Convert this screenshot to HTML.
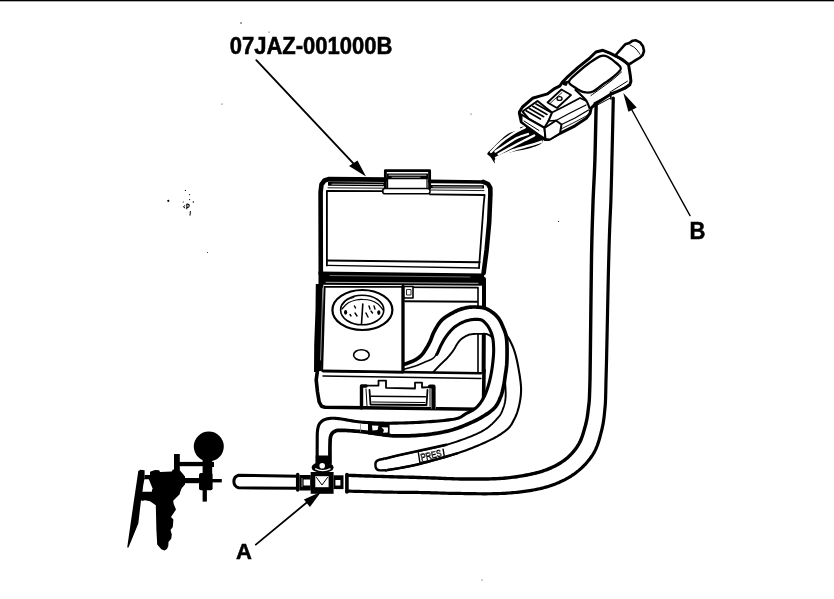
<!DOCTYPE html>
<html><head><meta charset="utf-8"><style>
html,body{margin:0;padding:0;background:#fff;}
svg{display:block;}
svg{will-change:transform;}
</style></head><body>
<svg width="834" height="599" viewBox="0 0 834 599">
<rect width="834" height="599" fill="#fff"/>
<rect x="0" y="0" width="834" height="1.3" fill="#000"/>
<circle cx="168.3" cy="200.8" r="1.1" fill="#000"/>
<circle cx="185.4" cy="190.4" r="0.6" fill="#000"/>
<circle cx="189.6" cy="194.6" r="0.6" fill="#000"/>
<circle cx="189.6" cy="199.6" r="0.6" fill="#000"/>
<circle cx="183.3" cy="202.0" r="0.6" fill="#000"/>
<circle cx="193.3" cy="202.0" r="0.7" fill="#000"/>
<circle cx="241.0" cy="23.0" r="0.7" fill="#000"/>
<circle cx="269.0" cy="32.0" r="0.5" fill="#000"/>
<circle cx="222.0" cy="104.0" r="0.5" fill="#000"/>
<circle cx="558.5" cy="221.5" r="0.6" fill="#000"/>
<circle cx="471.0" cy="114.0" r="0.5" fill="#000"/>
<circle cx="482.0" cy="580.0" r="0.5" fill="#000"/>
<circle cx="207.5" cy="252.5" r="0.5" fill="#000"/>
<path d="M185.2,205.3 L183.4,206.8 L185.2,208.2" fill="none" stroke="#000" stroke-width="1"/>
<path d="M186.8,209.3 L186.8,204.2 Q189.4,203.8 189.2,206 Q189,207.6 186.8,207.4" fill="none" stroke="#000" stroke-width="1.1"/>
<path d="M190.4,211 L190,215.6" fill="none" stroke="#000" stroke-width="1"/>
<text x="0" y="0" transform="translate(229.8,53.9) scale(1,1.07)" font-family="Liberation Sans, sans-serif" font-weight="bold" font-size="22" fill="#000" stroke="#000" stroke-width="0.5">07JAZ-001000B</text>
<text x="0" y="0" transform="translate(689.6,238.8) scale(1,1.05)" font-family="Liberation Sans, sans-serif" font-weight="bold" font-size="22" fill="#000" stroke="#000" stroke-width="0.5">B</text>
<text x="0" y="0" transform="translate(236,559.3) scale(1,1.03)" font-family="Liberation Sans, sans-serif" font-weight="bold" font-size="22" fill="#000" stroke="#000" stroke-width="0.5">A</text>
<path d="M256.3,60.2 L359.0,169.3" fill="none" stroke="#000" stroke-width="1.90" stroke-linecap="round" stroke-linejoin="round"/>
<path d="M366.0,176.6 L349.0,166.0 L357.5,160.5Z" fill="#000" stroke="none" stroke-width="0.00" stroke-linejoin="round"/>
<path d="M690.0,215.6 L630.5,107.5" fill="none" stroke="#000" stroke-width="1.40" stroke-linecap="round" stroke-linejoin="round"/>
<path d="M623.3,93.0 L628.4,111.7 L636.7,107.4Z" fill="#000" stroke="none" stroke-width="0.00" stroke-linejoin="round"/>
<path d="M255.8,544.6 L311.0,499.0" fill="none" stroke="#000" stroke-width="1.80" stroke-linecap="round" stroke-linejoin="round"/>
<path d="M321.2,491.7 L303.9,499.5 L309.9,507.0Z" fill="#000" stroke="none" stroke-width="0.00" stroke-linejoin="round"/>
<path d="M319.0,188.0 L328.0,177.5 L385.0,178.0 L385.0,169.5 L430.0,169.5 L430.0,180.0 L484.0,180.5 L492.0,187.0 L490.0,200.0 L486.0,262.0 L483.0,277.0 L319.0,275.0Z" fill="#fff" stroke="none" stroke-width="0.00" stroke-linejoin="round"/>
<path d="M320.8,274.0 L320.6,192.0 L321.5,184.5 L324.5,180.5 L328.5,179.1 L385.5,179.6" fill="none" stroke="#000" stroke-width="4.60" stroke-linecap="round" stroke-linejoin="round"/>
<path d="M385.4,188.5 L385.4,170.6 L429.6,170.6 L429.6,188.5" fill="none" stroke="#000" stroke-width="2.90" stroke-linecap="round" stroke-linejoin="round"/>
<path d="M387.0,173.4 L428.0,173.4 L428.0,179.2 L387.0,179.2Z" fill="#000" stroke="none" stroke-width="0.00" stroke-linejoin="round"/>
<path d="M389.0,175.2 L426.0,175.2" fill="none" stroke="#fff" stroke-width="0.80" stroke-linecap="round" stroke-linejoin="round"/>
<path d="M392.0,177.3 L420.0,177.3" fill="none" stroke="#fff" stroke-width="0.60" stroke-linecap="round" stroke-linejoin="round"/>
<path d="M387.6,179.0 L387.6,187.5" fill="none" stroke="#000" stroke-width="1.20" stroke-linecap="round" stroke-linejoin="round"/>
<path d="M427.0,179.0 L427.0,187.5" fill="none" stroke="#000" stroke-width="1.20" stroke-linecap="round" stroke-linejoin="round"/>
<path d="M429.5,181.4 L483.7,182.0" fill="none" stroke="#000" stroke-width="3.60" stroke-linecap="round" stroke-linejoin="round"/>
<path d="M483.5,182.0 L488.0,184.0 L490.3,188.0 L490.4,194.0 L489.2,222.0 L486.6,250.0 L483.6,273.0" fill="none" stroke="#000" stroke-width="4.60" stroke-linecap="round" stroke-linejoin="round"/>
<path d="M328.0,182.0 L385.0,182.6 L385.0,186.2 L328.0,185.8Z" fill="#000" stroke="none" stroke-width="0.00" stroke-linejoin="round"/>
<path d="M332.0,184.2 L383.0,184.6" fill="none" stroke="#fff" stroke-width="0.70" stroke-linecap="round" stroke-linejoin="round"/>
<path d="M431.0,185.0 L484.0,185.3 L484.0,188.4 L431.0,188.2Z" fill="#000" stroke="none" stroke-width="0.00" stroke-linejoin="round"/>
<path d="M433.0,186.9 L482.0,187.1" fill="none" stroke="#fff" stroke-width="0.70" stroke-linecap="round" stroke-linejoin="round"/>
<path d="M328.0,187.8 L384.0,188.2" fill="none" stroke="#000" stroke-width="0.90" stroke-linecap="round" stroke-linejoin="round"/>
<path d="M431.0,190.0 L484.0,190.6" fill="none" stroke="#000" stroke-width="0.90" stroke-linecap="round" stroke-linejoin="round"/>
<rect x="382.6" y="188.6" width="47.5" height="5.2" rx="2.6" fill="#fff" stroke="#000" stroke-width="1.5"/>
<path d="M326.9,265.5 L326.9,190.8 L382.6,191.2" fill="none" stroke="#000" stroke-width="1.80" stroke-linecap="round" stroke-linejoin="round"/>
<path d="M430.0,194.3 L484.6,195.0 L483.6,205.0 L479.0,268.0" fill="none" stroke="#000" stroke-width="1.80" stroke-linecap="round" stroke-linejoin="round"/>
<path d="M327.0,260.4 L479.5,262.3" fill="none" stroke="#000" stroke-width="2.00" stroke-linecap="round" stroke-linejoin="round"/>
<path d="M327.0,265.4 L479.0,268.0" fill="none" stroke="#000" stroke-width="1.40" stroke-linecap="round" stroke-linejoin="round"/>
<path d="M318.5,271.6 L484.0,273.6 L484.5,285.8 L318.5,284.8Z" fill="#000" stroke="none" stroke-width="0.00" stroke-linejoin="round"/>
<path d="M326.0,282.3 L478.0,283.3" fill="none" stroke="#fff" stroke-width="0.70" stroke-linecap="round" stroke-linejoin="round"/>
<path d="M330.0,275.5 L470.0,277.0" fill="none" stroke="#ddd" stroke-width="0.50" stroke-linecap="round" stroke-linejoin="round"/>
<path d="M321.0,285.0 L484.0,286.0 L484.0,405.0 L480.0,408.5 L324.0,408.0 L320.0,404.0Z" fill="#fff" stroke="none" stroke-width="0.00" stroke-linejoin="round"/>
<path d="M315.8,284.0 L323.4,284.0 L323.4,300.0 L323.0,340.0 L321.6,372.0 L314.0,372.0 L314.2,345.0 L315.5,310.0Z" fill="#000" stroke="none" stroke-width="0.00" stroke-linejoin="round"/>
<path d="M322.8,288.0 L320.6,360.0" fill="none" stroke="#fff" stroke-width="0.60" stroke-linecap="round" stroke-linejoin="round"/>
<path d="M484.0,279.0 L484.0,300.0 L483.6,372.0" fill="none" stroke="#000" stroke-width="4.00" stroke-linecap="round" stroke-linejoin="round"/>
<path d="M322.3,371.0 L324.8,286.8 L478.0,287.6 L478.0,374.0" fill="none" stroke="#000" stroke-width="1.60" stroke-linecap="round" stroke-linejoin="round"/>
<path d="M405.0,301.2 L477.0,301.8" fill="none" stroke="#000" stroke-width="1.90" stroke-linecap="round" stroke-linejoin="round"/>
<path d="M403.5,286.5 L413.0,286.5 L413.0,298.0 L403.5,298.0Z" fill="#fff" stroke="#000" stroke-width="1.60" stroke-linejoin="round"/>
<path d="M406.5,289.5 L411.0,289.5 L411.0,295.0 L406.5,295.0Z" fill="none" stroke="#000" stroke-width="0.80" stroke-linejoin="round"/>
<path d="M432.50,373.00 L432.86,372.61 L433.31,372.12 L433.85,371.55 L434.44,370.90 L435.09,370.20 L435.78,369.46 L436.49,368.70 L437.21,367.92 L437.94,367.15 L438.66,366.39 L439.35,365.67 L440.00,365.00 L440.63,364.36 L441.28,363.73 L441.93,363.11 L442.59,362.50 L443.24,361.88 L443.89,361.27 L444.54,360.67 L445.18,360.06 L445.81,359.45 L446.42,358.84 L447.02,358.22 L447.60,357.60 L448.16,356.97 L448.72,356.33 L449.26,355.69 L449.80,355.04 L450.32,354.39 L450.83,353.74 L451.33,353.10 L451.81,352.46 L452.29,351.83 L452.74,351.21 L453.18,350.60 L453.60,350.00 L454.00,349.42 L454.36,348.84 L454.71,348.26 L455.03,347.70 L455.34,347.14 L455.64,346.59 L455.94,346.05 L456.23,345.51 L456.53,344.99 L456.84,344.48 L457.16,343.99 L457.50,343.50 L457.84,343.03 L458.17,342.57 L458.50,342.12 L458.83,341.69 L459.16,341.26 L459.49,340.84 L459.85,340.44 L460.22,340.04 L460.61,339.64 L461.04,339.26 L461.50,338.88 L462.00,338.50 L462.54,338.12 L463.11,337.74 L463.71,337.35 L464.33,336.97 L464.98,336.59 L465.66,336.22 L466.35,335.88 L467.06,335.54 L467.78,335.24 L468.51,334.96 L469.25,334.71 L470.00,334.50 L470.77,334.33 L471.57,334.19 L472.41,334.08 L473.26,334.00 L474.13,333.95 L475.00,333.91 L475.87,333.89 L476.74,333.89 L477.59,333.89 L478.43,333.89 L479.23,333.90 L480.00,333.90 L480.74,333.89 L481.47,333.87 L482.19,333.85 L482.89,333.83 L483.58,333.82 L484.25,333.82 L484.91,333.84 L485.56,333.89 L486.19,333.98 L486.81,334.10 L487.41,334.27 L488.00,334.50 L488.57,334.77 L489.12,335.06 L489.64,335.38 L490.15,335.73 L490.64,336.12 L491.12,336.54 L491.60,337.00 L492.07,337.50 L492.55,338.05 L493.02,338.65 L493.51,339.30 L494.00,340.00 L494.51,340.76 L495.02,341.58 L495.55,342.45 L496.07,343.37 L496.60,344.34 L497.12,345.34 L497.64,346.39 L498.15,347.46 L498.64,348.57 L499.12,349.69 L499.57,350.84 L500.00,352.00 L500.41,353.19 L500.81,354.44 L501.21,355.73 L501.59,357.05 L501.95,358.40 L502.30,359.78 L502.63,361.16 L502.95,362.55 L503.24,363.93 L503.52,365.31 L503.77,366.67 L504.00,368.00 L504.20,369.32 L504.37,370.65 L504.52,371.98 L504.64,373.31 L504.74,374.64 L504.82,375.96 L504.90,377.28 L504.96,378.58 L505.02,379.86 L505.08,381.13 L505.14,382.38 L505.20,383.60 L505.27,384.80 L505.34,385.99 L505.42,387.17 L505.49,388.33 L505.56,389.48 L505.61,390.61 L505.66,391.72 L505.69,392.81 L505.70,393.89 L505.69,394.95 L505.66,395.98 L505.60,397.00 L505.52,397.99 L505.43,398.94 L505.32,399.87 L505.19,400.77 L505.05,401.66 L504.89,402.53 L504.70,403.39 L504.50,404.25 L504.26,405.10 L504.01,405.96 L503.72,406.82 L503.40,407.70 L503.08,408.57 L502.77,409.43 L502.46,410.27 L502.13,411.10 L501.79,411.93 L501.40,412.77 L500.96,413.62 L500.47,414.48 L499.89,415.36 L499.23,416.27 L498.47,417.22 L497.60,418.20 L496.65,419.23 L495.67,420.29 L494.63,421.40 L493.54,422.53 L492.37,423.68 L491.11,424.84 L489.75,426.02 L488.27,427.20 L486.68,428.37 L484.94,429.53 L483.05,430.68 L481.00,431.80 L478.77,432.92 L476.36,434.04 L473.79,435.17 L471.09,436.31 L468.25,437.44 L465.31,438.56 L462.27,439.66 L459.16,440.75 L455.99,441.81 L452.78,442.84 L449.54,443.84 L446.30,444.80 L442.93,445.73 L439.33,446.64 L435.56,447.54 L431.67,448.41 L427.73,449.26 L423.78,450.08 L419.89,450.87 L416.11,451.63 L412.49,452.36 L409.10,453.05 L405.98,453.69 L403.20,454.30 L400.70,454.86 L398.39,455.39 L396.27,455.88 L394.32,456.34 L392.53,456.76 L390.91,457.14 L389.43,457.50 L388.09,457.82 L386.89,458.11 L385.81,458.37 L384.85,458.60 L384.00,458.80 L386.00,470.20 L387.30,469.99 L388.87,469.75 L390.68,469.48 L392.70,469.19 L394.92,468.86 L397.31,468.49 L399.85,468.09 L402.51,467.63 L405.28,467.13 L408.14,466.58 L411.05,465.97 L414.00,465.30 L417.10,464.56 L420.43,463.73 L423.96,462.84 L427.64,461.89 L431.43,460.89 L435.28,459.86 L439.14,458.79 L442.97,457.71 L446.72,456.62 L450.36,455.53 L453.83,454.45 L457.10,453.40 L460.22,452.35 L463.29,451.27 L466.30,450.18 L469.24,449.07 L472.11,447.95 L474.90,446.84 L477.60,445.72 L480.20,444.62 L482.70,443.53 L485.09,442.46 L487.36,441.41 L489.50,440.40 L491.51,439.41 L493.40,438.45 L495.17,437.50 L496.83,436.57 L498.38,435.65 L499.84,434.75 L501.21,433.86 L502.50,432.97 L503.71,432.10 L504.86,431.23 L505.96,430.36 L507.00,429.50 L507.96,428.65 L508.80,427.83 L509.54,427.02 L510.20,426.23 L510.78,425.45 L511.31,424.67 L511.79,423.88 L512.23,423.09 L512.66,422.28 L513.09,421.45 L513.53,420.59 L514.00,419.70 L514.47,418.79 L514.93,417.86 L515.37,416.93 L515.79,415.98 L516.20,415.01 L516.59,414.03 L516.96,413.03 L517.32,412.01 L517.66,410.97 L517.99,409.90 L518.30,408.82 L518.60,407.70 L518.89,406.55 L519.17,405.36 L519.43,404.14 L519.69,402.89 L519.93,401.62 L520.15,400.34 L520.35,399.04 L520.53,397.74 L520.69,396.44 L520.82,395.15 L520.93,393.86 L521.00,392.60 L521.05,391.37 L521.07,390.18 L521.07,389.02 L521.04,387.87 L521.00,386.73 L520.93,385.57 L520.83,384.38 L520.71,383.16 L520.57,381.88 L520.40,380.54 L520.21,379.12 L520.00,377.60 L519.76,375.96 L519.48,374.19 L519.18,372.31 L518.84,370.35 L518.49,368.34 L518.11,366.30 L517.72,364.26 L517.31,362.25 L516.89,360.29 L516.47,358.41 L516.03,356.64 L515.60,355.00 L515.16,353.47 L514.71,352.00 L514.25,350.60 L513.78,349.25 L513.29,347.96 L512.80,346.71 L512.29,345.51 L511.78,344.35 L511.25,343.22 L510.71,342.12 L510.16,341.05 L509.60,340.00 L509.03,338.99 L508.47,338.03 L507.89,337.12 L507.31,336.26 L506.72,335.43 L506.11,334.62 L505.49,333.84 L504.84,333.07 L504.18,332.31 L503.48,331.55 L502.76,330.78 L502.00,330.00 L501.22,329.21 L500.41,328.41 L499.58,327.61 L498.73,326.81 L497.86,326.03 L496.96,325.25 L496.04,324.49 L495.09,323.74 L494.11,323.02 L493.10,322.31 L492.07,321.64 L491.00,321.00 L489.89,320.36 L488.74,319.70 L487.55,319.03 L486.33,318.37 L485.08,317.73 L483.81,317.12 L482.52,316.57 L481.22,316.07 L479.91,315.66 L478.60,315.33 L477.30,315.11 L476.00,315.00 L474.70,315.01 L473.38,315.13 L472.05,315.34 L470.70,315.63 L469.35,316.00 L468.00,316.44 L466.65,316.93 L465.30,317.48 L463.95,318.07 L462.62,318.69 L461.30,319.34 L460.00,320.00 L458.70,320.70 L457.40,321.47 L456.09,322.30 L454.78,323.19 L453.48,324.11 L452.19,325.06 L450.92,326.04 L449.67,327.04 L448.45,328.04 L447.26,329.04 L446.11,330.03 L445.00,331.00 L443.93,331.96 L442.90,332.94 L441.90,333.93 L440.93,334.93 L439.98,335.93 L439.06,336.94 L438.17,337.95 L437.30,338.96 L436.45,339.98 L435.61,340.99 L434.80,342.00 L434.00,343.00 L433.25,344.01 L432.56,345.04 L431.93,346.08 L431.33,347.13 L430.76,348.18 L430.19,349.22 L429.61,350.25 L429.00,351.26 L428.35,352.25 L427.65,353.20 L426.87,354.12 L426.00,355.00 L425.05,355.84 L424.04,356.67 L422.97,357.46 L421.85,358.24 L420.69,358.99 L419.50,359.72 L418.28,360.42 L417.04,361.09 L415.78,361.74 L414.52,362.36 L413.26,362.94 L412.00,363.50 L410.69,364.03 L409.26,364.53 L407.77,365.01 L406.22,365.46 L404.66,365.89 L403.12,366.28 L401.63,366.65 L400.22,366.98 L398.92,367.29 L397.76,367.56 L396.78,367.80 L396.00,368.00Z" fill="#fff" stroke="none"/><path d="M432.50,373.00 L432.86,372.61 L433.31,372.12 L433.85,371.55 L434.44,370.90 L435.09,370.20 L435.78,369.46 L436.49,368.70 L437.21,367.92 L437.94,367.15 L438.66,366.39 L439.35,365.67 L440.00,365.00 L440.63,364.36 L441.28,363.73 L441.93,363.11 L442.59,362.50 L443.24,361.88 L443.89,361.27 L444.54,360.67 L445.18,360.06 L445.81,359.45 L446.42,358.84 L447.02,358.22 L447.60,357.60 L448.16,356.97 L448.72,356.33 L449.26,355.69 L449.80,355.04 L450.32,354.39 L450.83,353.74 L451.33,353.10 L451.81,352.46 L452.29,351.83 L452.74,351.21 L453.18,350.60 L453.60,350.00 L454.00,349.42 L454.36,348.84 L454.71,348.26 L455.03,347.70 L455.34,347.14 L455.64,346.59 L455.94,346.05 L456.23,345.51 L456.53,344.99 L456.84,344.48 L457.16,343.99 L457.50,343.50 L457.84,343.03 L458.17,342.57 L458.50,342.12 L458.83,341.69 L459.16,341.26 L459.49,340.84 L459.85,340.44 L460.22,340.04 L460.61,339.64 L461.04,339.26 L461.50,338.88 L462.00,338.50 L462.54,338.12 L463.11,337.74 L463.71,337.35 L464.33,336.97 L464.98,336.59 L465.66,336.22 L466.35,335.88 L467.06,335.54 L467.78,335.24 L468.51,334.96 L469.25,334.71 L470.00,334.50 L470.77,334.33 L471.57,334.19 L472.41,334.08 L473.26,334.00 L474.13,333.95 L475.00,333.91 L475.87,333.89 L476.74,333.89 L477.59,333.89 L478.43,333.89 L479.23,333.90 L480.00,333.90 L480.74,333.89 L481.47,333.87 L482.19,333.85 L482.89,333.83 L483.58,333.82 L484.25,333.82 L484.91,333.84 L485.56,333.89 L486.19,333.98 L486.81,334.10 L487.41,334.27 L488.00,334.50 L488.57,334.77 L489.12,335.06 L489.64,335.38 L490.15,335.73 L490.64,336.12 L491.12,336.54 L491.60,337.00 L492.07,337.50 L492.55,338.05 L493.02,338.65 L493.51,339.30 L494.00,340.00 L494.51,340.76 L495.02,341.58 L495.55,342.45 L496.07,343.37 L496.60,344.34 L497.12,345.34 L497.64,346.39 L498.15,347.46 L498.64,348.57 L499.12,349.69 L499.57,350.84 L500.00,352.00 L500.41,353.19 L500.81,354.44 L501.21,355.73 L501.59,357.05 L501.95,358.40 L502.30,359.78 L502.63,361.16 L502.95,362.55 L503.24,363.93 L503.52,365.31 L503.77,366.67 L504.00,368.00 L504.20,369.32 L504.37,370.65 L504.52,371.98 L504.64,373.31 L504.74,374.64 L504.82,375.96 L504.90,377.28 L504.96,378.58 L505.02,379.86 L505.08,381.13 L505.14,382.38 L505.20,383.60 L505.27,384.80 L505.34,385.99 L505.42,387.17 L505.49,388.33 L505.56,389.48 L505.61,390.61 L505.66,391.72 L505.69,392.81 L505.70,393.89 L505.69,394.95 L505.66,395.98 L505.60,397.00 L505.52,397.99 L505.43,398.94 L505.32,399.87 L505.19,400.77 L505.05,401.66 L504.89,402.53 L504.70,403.39 L504.50,404.25 L504.26,405.10 L504.01,405.96 L503.72,406.82 L503.40,407.70 L503.08,408.57 L502.77,409.43 L502.46,410.27 L502.13,411.10 L501.79,411.93 L501.40,412.77 L500.96,413.62 L500.47,414.48 L499.89,415.36 L499.23,416.27 L498.47,417.22 L497.60,418.20 L496.65,419.23 L495.67,420.29 L494.63,421.40 L493.54,422.53 L492.37,423.68 L491.11,424.84 L489.75,426.02 L488.27,427.20 L486.68,428.37 L484.94,429.53 L483.05,430.68 L481.00,431.80 L478.77,432.92 L476.36,434.04 L473.79,435.17 L471.09,436.31 L468.25,437.44 L465.31,438.56 L462.27,439.66 L459.16,440.75 L455.99,441.81 L452.78,442.84 L449.54,443.84 L446.30,444.80 L442.93,445.73 L439.33,446.64 L435.56,447.54 L431.67,448.41 L427.73,449.26 L423.78,450.08 L419.89,450.87 L416.11,451.63 L412.49,452.36 L409.10,453.05 L405.98,453.69 L403.20,454.30 L400.70,454.86 L398.39,455.39 L396.27,455.88 L394.32,456.34 L392.53,456.76 L390.91,457.14 L389.43,457.50 L388.09,457.82 L386.89,458.11 L385.81,458.37 L384.85,458.60 L384.00,458.80" fill="none" stroke="#000" stroke-width="1.90" stroke-linecap="round" stroke-linejoin="round"/><path d="M396.00,368.00 L396.78,367.80 L397.76,367.56 L398.92,367.29 L400.22,366.98 L401.63,366.65 L403.12,366.28 L404.66,365.89 L406.22,365.46 L407.77,365.01 L409.26,364.53 L410.69,364.03 L412.00,363.50 L413.26,362.94 L414.52,362.36 L415.78,361.74 L417.04,361.09 L418.28,360.42 L419.50,359.72 L420.69,358.99 L421.85,358.24 L422.97,357.46 L424.04,356.67 L425.05,355.84 L426.00,355.00 L426.87,354.12 L427.65,353.20 L428.35,352.25 L429.00,351.26 L429.61,350.25 L430.19,349.22 L430.76,348.18 L431.33,347.13 L431.93,346.08 L432.56,345.04 L433.25,344.01 L434.00,343.00 L434.80,342.00 L435.61,340.99 L436.45,339.98 L437.30,338.96 L438.17,337.95 L439.06,336.94 L439.98,335.93 L440.93,334.93 L441.90,333.93 L442.90,332.94 L443.93,331.96 L445.00,331.00 L446.11,330.03 L447.26,329.04 L448.45,328.04 L449.67,327.04 L450.92,326.04 L452.19,325.06 L453.48,324.11 L454.78,323.19 L456.09,322.30 L457.40,321.47 L458.70,320.70 L460.00,320.00 L461.30,319.34 L462.62,318.69 L463.95,318.07 L465.30,317.48 L466.65,316.93 L468.00,316.44 L469.35,316.00 L470.70,315.63 L472.05,315.34 L473.38,315.13 L474.70,315.01 L476.00,315.00 L477.30,315.11 L478.60,315.33 L479.91,315.66 L481.22,316.07 L482.52,316.57 L483.81,317.12 L485.08,317.73 L486.33,318.37 L487.55,319.03 L488.74,319.70 L489.89,320.36 L491.00,321.00 L492.07,321.64 L493.10,322.31 L494.11,323.02 L495.09,323.74 L496.04,324.49 L496.96,325.25 L497.86,326.03 L498.73,326.81 L499.58,327.61 L500.41,328.41 L501.22,329.21 L502.00,330.00 L502.76,330.78 L503.48,331.55 L504.18,332.31 L504.84,333.07 L505.49,333.84 L506.11,334.62 L506.72,335.43 L507.31,336.26 L507.89,337.12 L508.47,338.03 L509.03,338.99 L509.60,340.00 L510.16,341.05 L510.71,342.12 L511.25,343.22 L511.78,344.35 L512.29,345.51 L512.80,346.71 L513.29,347.96 L513.78,349.25 L514.25,350.60 L514.71,352.00 L515.16,353.47 L515.60,355.00 L516.03,356.64 L516.47,358.41 L516.89,360.29 L517.31,362.25 L517.72,364.26 L518.11,366.30 L518.49,368.34 L518.84,370.35 L519.18,372.31 L519.48,374.19 L519.76,375.96 L520.00,377.60 L520.21,379.12 L520.40,380.54 L520.57,381.88 L520.71,383.16 L520.83,384.38 L520.93,385.57 L521.00,386.73 L521.04,387.87 L521.07,389.02 L521.07,390.18 L521.05,391.37 L521.00,392.60 L520.93,393.86 L520.82,395.15 L520.69,396.44 L520.53,397.74 L520.35,399.04 L520.15,400.34 L519.93,401.62 L519.69,402.89 L519.43,404.14 L519.17,405.36 L518.89,406.55 L518.60,407.70 L518.30,408.82 L517.99,409.90 L517.66,410.97 L517.32,412.01 L516.96,413.03 L516.59,414.03 L516.20,415.01 L515.79,415.98 L515.37,416.93 L514.93,417.86 L514.47,418.79 L514.00,419.70 L513.53,420.59 L513.09,421.45 L512.66,422.28 L512.23,423.09 L511.79,423.88 L511.31,424.67 L510.78,425.45 L510.20,426.23 L509.54,427.02 L508.80,427.83 L507.96,428.65 L507.00,429.50 L505.96,430.36 L504.86,431.23 L503.71,432.10 L502.50,432.97 L501.21,433.86 L499.84,434.75 L498.38,435.65 L496.83,436.57 L495.17,437.50 L493.40,438.45 L491.51,439.41 L489.50,440.40 L487.36,441.41 L485.09,442.46 L482.70,443.53 L480.20,444.62 L477.60,445.72 L474.90,446.84 L472.11,447.95 L469.24,449.07 L466.30,450.18 L463.29,451.27 L460.22,452.35 L457.10,453.40 L453.83,454.45 L450.36,455.53 L446.72,456.62 L442.97,457.71 L439.14,458.79 L435.28,459.86 L431.43,460.89 L427.64,461.89 L423.96,462.84 L420.43,463.73 L417.10,464.56 L414.00,465.30 L411.05,465.97 L408.14,466.58 L405.28,467.13 L402.51,467.63 L399.85,468.09 L397.31,468.49 L394.92,468.86 L392.70,469.19 L390.68,469.48 L388.87,469.75 L387.30,469.99 L386.00,470.20" fill="none" stroke="#000" stroke-width="2.10" stroke-linecap="round" stroke-linejoin="round"/>
<path d="M446.3,444.8 C439.1,446.4 413.6,452.0 403.2,454.3 C392.8,456.6 387.2,458.1 384.0,458.8" fill="none" stroke="#000" stroke-width="2.50" stroke-linecap="round" stroke-linejoin="round"/>
<path d="M457.1,453.4 C449.9,455.4 425.9,462.5 414.0,465.3 C402.1,468.1 390.7,469.4 386.0,470.2" fill="none" stroke="#000" stroke-width="2.50" stroke-linecap="round" stroke-linejoin="round"/>
<path d="M384.5,458.7 L379,459.8 Q375.3,460.8 375.4,464 L375.6,467 Q376.3,470.3 380,470.4 L386.5,470.2" fill="#fff" stroke="#000" stroke-width="2.4" stroke-linejoin="round"/>
<path d="M418.4,452.8 L419.8,462.2" fill="none" stroke="#000" stroke-width="1.40" stroke-linecap="round" stroke-linejoin="round"/>
<path d="M443.1,449.2 L444.5,457.6" fill="none" stroke="#000" stroke-width="1.40" stroke-linecap="round" stroke-linejoin="round"/>
<path d="M419.8,462.4 L444.5,457.4" fill="none" stroke="#000" stroke-width="1.00" stroke-linecap="round" stroke-linejoin="round"/>
<text x="0" y="0" transform="translate(421.5,460.8) rotate(-13)" font-family="Liberation Sans, sans-serif" font-size="9.6" fill="none" stroke="#000" stroke-width="0.65" textLength="21" lengthAdjust="spacingAndGlyphs">PRES</text>
<path d="M316.0,371.0 L484.0,373.0 L484.0,405.0 L480.0,409.0 L322.0,408.5 L319.0,404.0Z" fill="#fff" stroke="none" stroke-width="0.00" stroke-linejoin="round"/>
<path d="M317.8,368.0 L316.2,380.0 L317.5,392.0 L319.2,402.0 L321.5,406.2 L325.0,407.2 L479.0,409.2 L483.5,405.0 L484.0,370.0" fill="none" stroke="#000" stroke-width="3.60" stroke-linecap="round" stroke-linejoin="round"/>
<path d="M323.0,370.9 L481.0,373.3" fill="none" stroke="#000" stroke-width="2.60" stroke-linecap="round" stroke-linejoin="round"/>
<path d="M323.0,376.0 L481.0,378.6" fill="none" stroke="#000" stroke-width="1.50" stroke-linecap="round" stroke-linejoin="round"/>
<path d="M361.0,386.0 L378.5,385.5 L378.5,380.5 L386.0,380.5 L386.0,387.5 L415.0,388.0 L415.0,382.5 L422.0,382.5 L422.0,387.5 L431.0,387.0 L431.0,408.5 L436.0,408.5 L436.0,386.0 L431.0,386.0 L431.0,387.0Z" fill="#fff" stroke="none" stroke-width="0.00" stroke-linejoin="round"/>
<path d="M361.5,408.0 L361.5,386.0 L366.0,386.0" fill="none" stroke="#000" stroke-width="3.40" stroke-linecap="round" stroke-linejoin="round"/>
<path d="M433.5,408.0 L433.5,386.5 L430.0,386.5" fill="none" stroke="#000" stroke-width="4.20" stroke-linecap="round" stroke-linejoin="round"/>
<path d="M366.0,385.6 L378.5,385.6 L378.5,380.6 L386.0,380.6 L386.0,387.8 L415.0,388.5 L415.0,382.6 L422.0,382.6 L422.0,387.5 L431.0,387.2" fill="none" stroke="#000" stroke-width="1.80" stroke-linecap="round" stroke-linejoin="round"/>
<path d="M369.5,390.0 L370.5,404.5 L426.5,405.0 L427.5,390.0" fill="none" stroke="#000" stroke-width="1.80" stroke-linecap="round" stroke-linejoin="round"/>
<path d="M371.0,396.3 L425.5,396.8" fill="none" stroke="#000" stroke-width="1.60" stroke-linecap="round" stroke-linejoin="round"/>
<path d="M372.0,402.0 L425.0,402.5" fill="none" stroke="#000" stroke-width="1.00" stroke-linecap="round" stroke-linejoin="round"/>
<path d="M366.0,389.0 L367.0,406.0" fill="none" stroke="#000" stroke-width="1.00" stroke-linecap="round" stroke-linejoin="round"/>
<path d="M430.0,389.0 L430.0,406.0" fill="none" stroke="#000" stroke-width="1.00" stroke-linecap="round" stroke-linejoin="round"/>
<path d="M400.50,365.60 L401.16,365.36 L402.01,365.06 L403.03,364.71 L404.16,364.31 L405.39,363.89 L406.68,363.43 L408.00,362.96 L409.30,362.47 L410.57,361.99 L411.77,361.51 L412.85,361.04 L413.80,360.60 L414.64,360.18 L415.41,359.76 L416.13,359.35 L416.81,358.94 L417.45,358.52 L418.05,358.11 L418.62,357.68 L419.18,357.24 L419.72,356.79 L420.24,356.31 L420.77,355.82 L421.30,355.30 L421.82,354.75 L422.33,354.17 L422.82,353.56 L423.29,352.94 L423.75,352.30 L424.19,351.64 L424.62,350.99 L425.03,350.33 L425.44,349.68 L425.83,349.03 L426.22,348.41 L426.60,347.80 L426.96,347.22 L427.31,346.66 L427.63,346.11 L427.94,345.58 L428.24,345.05 L428.54,344.53 L428.83,343.99 L429.11,343.44 L429.40,342.87 L429.69,342.28 L429.99,341.66 L430.30,341.00 L430.61,340.31 L430.89,339.60 L431.17,338.86 L431.44,338.11 L431.71,337.34 L431.99,336.55 L432.29,335.74 L432.60,334.92 L432.95,334.09 L433.32,333.24 L433.74,332.37 L434.20,331.50 L434.70,330.60 L435.22,329.65 L435.76,328.67 L436.32,327.66 L436.92,326.64 L437.54,325.62 L438.19,324.60 L438.88,323.59 L439.60,322.61 L440.36,321.66 L441.16,320.75 L442.00,319.90 L442.91,319.08 L443.89,318.28 L444.93,317.51 L446.03,316.75 L447.16,316.01 L448.31,315.31 L449.47,314.63 L450.62,313.97 L451.75,313.35 L452.85,312.77 L453.91,312.21 L454.90,311.70 L455.84,311.23 L456.75,310.79 L457.62,310.40 L458.48,310.03 L459.31,309.70 L460.13,309.40 L460.94,309.12 L461.74,308.87 L462.55,308.63 L463.35,308.41 L464.17,308.20 L465.00,308.00 L465.84,307.81 L466.67,307.65 L467.51,307.51 L468.34,307.38 L469.17,307.28 L470.01,307.19 L470.84,307.12 L471.67,307.06 L472.50,307.02 L473.33,307.00 L474.17,306.99 L475.00,307.00 L475.84,307.02 L476.69,307.05 L477.55,307.09 L478.41,307.14 L479.27,307.22 L480.12,307.31 L480.98,307.42 L481.81,307.54 L482.64,307.70 L483.45,307.87 L484.24,308.07 L485.00,308.30 L485.74,308.56 L486.47,308.85 L487.19,309.16 L487.89,309.50 L488.58,309.86 L489.25,310.24 L489.91,310.64 L490.56,311.06 L491.19,311.48 L491.81,311.91 L492.41,312.36 L493.00,312.80 L493.58,313.25 L494.14,313.71 L494.69,314.19 L495.22,314.67 L495.74,315.17 L496.25,315.68 L496.74,316.20 L497.22,316.74 L497.69,317.28 L498.14,317.84 L498.58,318.41 L499.00,319.00 L499.41,319.60 L499.79,320.22 L500.16,320.86 L500.52,321.51 L500.86,322.18 L501.19,322.86 L501.51,323.54 L501.81,324.23 L502.12,324.92 L502.41,325.62 L502.71,326.31 L503.00,327.00 L503.29,327.68 L503.58,328.36 L503.87,329.04 L504.15,329.72 L504.42,330.40 L504.69,331.09 L504.94,331.79 L505.19,332.50 L505.41,333.22 L505.63,333.96 L505.82,334.72 L506.00,335.50 L506.16,336.28 L506.30,337.05 L506.42,337.82 L506.53,338.60 L506.62,339.38 L506.70,340.19 L506.77,341.03 L506.83,341.91 L506.88,342.84 L506.93,343.83 L506.97,344.88 L507.00,346.00 L507.03,347.22 L507.05,348.56 L507.07,349.98 L507.07,351.47 L507.07,353.00 L507.06,354.57 L507.04,356.14 L507.01,357.70 L506.98,359.23 L506.93,360.70 L506.87,362.10 L506.80,363.40 L506.72,364.63 L506.61,365.81 L506.50,366.95 L506.37,368.05 L506.23,369.12 L506.09,370.16 L505.94,371.18 L505.79,372.17 L505.63,373.15 L505.48,374.11 L505.34,375.06 L505.20,376.00 L505.07,376.92 L504.95,377.81 L504.83,378.66 L504.72,379.49 L504.60,380.30 L504.49,381.10 L504.37,381.89 L504.24,382.69 L504.10,383.49 L503.95,384.31 L503.78,385.14 L503.60,386.00 L503.41,386.88 L503.22,387.78 L503.02,388.69 L502.81,389.60 L502.60,390.53 L502.38,391.46 L502.13,392.39 L501.87,393.32 L501.59,394.25 L501.29,395.17 L500.96,396.09 L500.60,397.00 L500.22,397.91 L499.84,398.82 L499.45,399.74 L499.04,400.65 L498.62,401.57 L498.16,402.48 L497.68,403.38 L497.16,404.27 L496.59,405.15 L495.98,406.02 L495.32,406.87 L494.60,407.70 L493.82,408.51 L492.98,409.32 L492.09,410.10 L491.16,410.88 L490.18,411.65 L489.17,412.40 L488.12,413.14 L487.05,413.87 L485.96,414.60 L484.85,415.31 L483.73,416.01 L482.60,416.70 L481.46,417.38 L480.29,418.05 L479.10,418.71 L477.89,419.36 L476.65,419.99 L475.39,420.62 L474.12,421.24 L472.83,421.84 L471.52,422.44 L470.19,423.04 L468.85,423.62 L467.50,424.20 L466.15,424.77 L464.81,425.34 L463.47,425.91 L462.13,426.46 L460.77,427.01 L459.38,427.55 L457.96,428.08 L456.49,428.59 L454.97,429.09 L453.39,429.58 L451.74,430.05 L450.00,430.50 L448.19,430.94 L446.32,431.37 L444.39,431.79 L442.40,432.20 L440.36,432.60 L438.27,432.98 L436.13,433.34 L433.94,433.69 L431.72,434.00 L429.45,434.30 L427.14,434.56 L424.80,434.80 L422.39,435.01 L419.88,435.21 L417.29,435.39 L414.65,435.55 L411.96,435.69 L409.24,435.80 L406.52,435.88 L403.81,435.94 L401.12,435.96 L398.48,435.94 L395.90,435.89 L393.40,435.80 L390.96,435.65 L388.55,435.43 L386.17,435.16 L383.81,434.84 L381.48,434.50 L379.18,434.12 L376.91,433.74 L374.66,433.37 L372.43,433.00 L370.23,432.66 L368.05,432.36 L365.90,432.10 L363.73,431.87 L361.52,431.66 L359.29,431.45 L357.06,431.25 L354.86,431.06 L352.70,430.89 L350.61,430.74 L348.62,430.61 L346.74,430.49 L344.99,430.40 L343.41,430.34 L342.00,430.30 L340.79,430.28 L339.76,430.29 L338.88,430.31 L338.14,430.36 L337.52,430.42 L336.99,430.51 L336.53,430.61 L336.11,430.74 L335.72,430.90 L335.34,431.07 L334.94,431.27 L334.50,431.50 L334.05,431.75 L333.63,432.01 L333.24,432.29 L332.88,432.59 L332.54,432.91 L332.23,433.26 L331.94,433.64 L331.68,434.04 L331.43,434.48 L331.20,434.95 L330.99,435.46 L330.80,436.00 L330.63,436.56 L330.49,437.14 L330.38,437.72 L330.29,438.33 L330.22,438.98 L330.17,439.66 L330.13,440.38 L330.10,441.17 L330.08,442.01 L330.05,442.93 L330.03,443.92 L330.00,445.00 L329.97,446.24 L329.95,447.69 L329.94,449.29 L329.94,451.00 L329.94,452.77 L329.95,454.56 L329.96,456.32 L329.97,458.00 L329.98,459.55 L329.99,460.94 L330.00,462.10 L330.00,463.00 L317.20,463.00 L317.20,462.12 L317.20,461.01 L317.19,459.70 L317.19,458.22 L317.18,456.62 L317.18,454.94 L317.17,453.20 L317.17,451.44 L317.17,449.71 L317.18,448.03 L317.19,446.45 L317.20,445.00 L317.21,443.62 L317.21,442.24 L317.21,440.86 L317.21,439.50 L317.21,438.16 L317.22,436.84 L317.24,435.57 L317.27,434.33 L317.31,433.15 L317.38,432.03 L317.48,430.98 L317.60,430.00 L317.74,429.10 L317.89,428.27 L318.06,427.51 L318.24,426.80 L318.43,426.15 L318.65,425.54 L318.89,424.98 L319.15,424.44 L319.44,423.93 L319.76,423.44 L320.11,422.97 L320.50,422.50 L320.92,422.05 L321.36,421.62 L321.83,421.23 L322.32,420.86 L322.84,420.51 L323.39,420.19 L323.97,419.90 L324.58,419.63 L325.21,419.39 L325.88,419.17 L326.57,418.97 L327.30,418.80 L328.03,418.65 L328.76,418.52 L329.49,418.42 L330.24,418.34 L331.02,418.29 L331.84,418.26 L332.72,418.25 L333.66,418.27 L334.67,418.31 L335.78,418.38 L336.98,418.48 L338.30,418.60 L339.74,418.76 L341.28,418.98 L342.92,419.25 L344.64,419.55 L346.44,419.87 L348.31,420.21 L350.24,420.56 L352.21,420.90 L354.23,421.22 L356.27,421.52 L358.33,421.78 L360.40,422.00 L362.48,422.18 L364.58,422.36 L366.70,422.51 L368.85,422.65 L371.04,422.78 L373.28,422.89 L375.57,422.98 L377.91,423.06 L380.32,423.12 L382.80,423.16 L385.36,423.19 L388.00,423.20 L390.77,423.19 L393.68,423.16 L396.71,423.11 L399.83,423.05 L403.02,422.97 L406.24,422.87 L409.47,422.76 L412.68,422.63 L415.85,422.49 L418.94,422.34 L421.94,422.17 L424.80,422.00 L427.61,421.81 L430.44,421.62 L433.26,421.41 L436.07,421.19 L438.82,420.95 L441.51,420.70 L444.11,420.44 L446.60,420.16 L448.95,419.87 L451.15,419.56 L453.18,419.24 L455.00,418.90 L456.59,418.54 L457.95,418.17 L459.11,417.77 L460.11,417.36 L460.97,416.94 L461.73,416.50 L462.42,416.05 L463.08,415.59 L463.74,415.13 L464.42,414.65 L465.16,414.18 L466.00,413.70 L466.90,413.23 L467.81,412.76 L468.73,412.30 L469.65,411.83 L470.56,411.36 L471.47,410.88 L472.36,410.37 L473.24,409.84 L474.10,409.29 L474.93,408.70 L475.73,408.07 L476.50,407.40 L477.24,406.69 L477.95,405.93 L478.65,405.15 L479.32,404.33 L479.97,403.49 L480.61,402.62 L481.22,401.73 L481.81,400.81 L482.39,399.88 L482.94,398.93 L483.48,397.97 L484.00,397.00 L484.50,396.01 L484.98,395.00 L485.43,393.96 L485.87,392.90 L486.28,391.82 L486.68,390.72 L487.06,389.62 L487.43,388.50 L487.79,387.38 L488.14,386.25 L488.47,385.13 L488.80,384.00 L489.12,382.87 L489.42,381.74 L489.71,380.59 L489.98,379.44 L490.24,378.29 L490.49,377.12 L490.73,375.95 L490.96,374.78 L491.18,373.59 L491.40,372.40 L491.60,371.20 L491.80,370.00 L491.99,368.77 L492.18,367.50 L492.36,366.20 L492.53,364.89 L492.69,363.57 L492.84,362.25 L492.98,360.95 L493.11,359.67 L493.23,358.42 L493.33,357.22 L493.42,356.08 L493.50,355.00 L493.56,353.99 L493.61,353.02 L493.64,352.10 L493.66,351.22 L493.67,350.38 L493.67,349.56 L493.66,348.77 L493.64,348.00 L493.61,347.24 L493.58,346.49 L493.54,345.75 L493.50,345.00 L493.46,344.26 L493.41,343.54 L493.36,342.84 L493.30,342.15 L493.23,341.47 L493.16,340.81 L493.07,340.16 L492.98,339.52 L492.88,338.88 L492.77,338.25 L492.64,337.63 L492.50,337.00 L492.35,336.38 L492.19,335.77 L492.02,335.16 L491.83,334.56 L491.64,333.97 L491.44,333.39 L491.22,332.81 L491.00,332.24 L490.77,331.67 L490.52,331.11 L490.27,330.55 L490.00,330.00 L489.73,329.45 L489.44,328.90 L489.15,328.35 L488.85,327.80 L488.54,327.26 L488.22,326.72 L487.88,326.20 L487.54,325.69 L487.18,325.19 L486.80,324.71 L486.41,324.24 L486.00,323.80 L485.59,323.36 L485.19,322.93 L484.79,322.49 L484.38,322.07 L483.96,321.66 L483.52,321.26 L483.05,320.89 L482.54,320.56 L481.99,320.25 L481.39,319.99 L480.73,319.77 L480.00,319.60 L479.19,319.48 L478.30,319.39 L477.34,319.34 L476.33,319.33 L475.27,319.35 L474.17,319.41 L473.07,319.49 L471.95,319.61 L470.85,319.77 L469.76,319.95 L468.71,320.16 L467.70,320.40 L466.71,320.68 L465.72,321.02 L464.71,321.39 L463.71,321.81 L462.72,322.26 L461.74,322.73 L460.78,323.22 L459.84,323.72 L458.94,324.23 L458.08,324.73 L457.27,325.22 L456.50,325.70 L455.79,326.17 L455.13,326.63 L454.52,327.10 L453.94,327.57 L453.40,328.05 L452.89,328.53 L452.39,329.02 L451.91,329.51 L451.44,330.02 L450.97,330.53 L450.49,331.06 L450.00,331.60 L449.51,332.15 L449.02,332.72 L448.54,333.30 L448.07,333.89 L447.61,334.49 L447.15,335.10 L446.70,335.71 L446.26,336.33 L445.83,336.95 L445.41,337.57 L445.00,338.19 L444.60,338.80 L444.21,339.41 L443.83,340.03 L443.47,340.65 L443.11,341.28 L442.77,341.90 L442.43,342.53 L442.10,343.16 L441.77,343.79 L441.45,344.42 L441.13,345.05 L440.82,345.67 L440.50,346.30 L440.19,346.93 L439.89,347.58 L439.60,348.24 L439.32,348.90 L439.04,349.56 L438.77,350.22 L438.49,350.87 L438.21,351.50 L437.92,352.11 L437.63,352.71 L437.32,353.27 L437.00,353.80 L436.68,354.30 L436.36,354.77 L436.04,355.22 L435.72,355.65 L435.39,356.06 L435.06,356.46 L434.71,356.84 L434.34,357.20 L433.95,357.56 L433.53,357.91 L433.08,358.26 L432.60,358.60 L432.09,358.93 L431.56,359.23 L431.01,359.52 L430.44,359.79 L429.84,360.06 L429.22,360.31 L428.58,360.57 L427.92,360.83 L427.23,361.10 L426.51,361.38 L425.77,361.68 L425.00,362.00 L424.20,362.34 L423.37,362.71 L422.50,363.09 L421.61,363.48 L420.69,363.88 L419.76,364.29 L418.80,364.69 L417.82,365.10 L416.83,365.49 L415.83,365.88 L414.82,366.25 L413.80,366.60 L412.72,366.95 L411.55,367.30 L410.31,367.65 L409.03,368.01 L407.73,368.35 L406.45,368.69 L405.21,369.01 L404.03,369.30 L402.94,369.58 L401.97,369.82 L401.15,370.03 L400.50,370.20Z" fill="#fff" stroke="none"/><path d="M400.50,365.60 L401.16,365.36 L402.01,365.06 L403.03,364.71 L404.16,364.31 L405.39,363.89 L406.68,363.43 L408.00,362.96 L409.30,362.47 L410.57,361.99 L411.77,361.51 L412.85,361.04 L413.80,360.60 L414.64,360.18 L415.41,359.76 L416.13,359.35 L416.81,358.94 L417.45,358.52 L418.05,358.11 L418.62,357.68 L419.18,357.24 L419.72,356.79 L420.24,356.31 L420.77,355.82 L421.30,355.30 L421.82,354.75 L422.33,354.17 L422.82,353.56 L423.29,352.94 L423.75,352.30 L424.19,351.64 L424.62,350.99 L425.03,350.33 L425.44,349.68 L425.83,349.03 L426.22,348.41 L426.60,347.80 L426.96,347.22 L427.31,346.66 L427.63,346.11 L427.94,345.58 L428.24,345.05 L428.54,344.53 L428.83,343.99 L429.11,343.44 L429.40,342.87 L429.69,342.28 L429.99,341.66 L430.30,341.00 L430.61,340.31 L430.89,339.60 L431.17,338.86 L431.44,338.11 L431.71,337.34 L431.99,336.55 L432.29,335.74 L432.60,334.92 L432.95,334.09 L433.32,333.24 L433.74,332.37 L434.20,331.50 L434.70,330.60 L435.22,329.65 L435.76,328.67 L436.32,327.66 L436.92,326.64 L437.54,325.62 L438.19,324.60 L438.88,323.59 L439.60,322.61 L440.36,321.66 L441.16,320.75 L442.00,319.90 L442.91,319.08 L443.89,318.28 L444.93,317.51 L446.03,316.75 L447.16,316.01 L448.31,315.31 L449.47,314.63 L450.62,313.97 L451.75,313.35 L452.85,312.77 L453.91,312.21 L454.90,311.70 L455.84,311.23 L456.75,310.79 L457.62,310.40 L458.48,310.03 L459.31,309.70 L460.13,309.40 L460.94,309.12 L461.74,308.87 L462.55,308.63 L463.35,308.41 L464.17,308.20 L465.00,308.00 L465.84,307.81 L466.67,307.65 L467.51,307.51 L468.34,307.38 L469.17,307.28 L470.01,307.19 L470.84,307.12 L471.67,307.06 L472.50,307.02 L473.33,307.00 L474.17,306.99 L475.00,307.00 L475.84,307.02 L476.69,307.05 L477.55,307.09 L478.41,307.14 L479.27,307.22 L480.12,307.31 L480.98,307.42 L481.81,307.54 L482.64,307.70 L483.45,307.87 L484.24,308.07 L485.00,308.30 L485.74,308.56 L486.47,308.85 L487.19,309.16 L487.89,309.50 L488.58,309.86 L489.25,310.24 L489.91,310.64 L490.56,311.06 L491.19,311.48 L491.81,311.91 L492.41,312.36 L493.00,312.80 L493.58,313.25 L494.14,313.71 L494.69,314.19 L495.22,314.67 L495.74,315.17 L496.25,315.68 L496.74,316.20 L497.22,316.74 L497.69,317.28 L498.14,317.84 L498.58,318.41 L499.00,319.00 L499.41,319.60 L499.79,320.22 L500.16,320.86 L500.52,321.51 L500.86,322.18 L501.19,322.86 L501.51,323.54 L501.81,324.23 L502.12,324.92 L502.41,325.62 L502.71,326.31 L503.00,327.00 L503.29,327.68 L503.58,328.36 L503.87,329.04 L504.15,329.72 L504.42,330.40 L504.69,331.09 L504.94,331.79 L505.19,332.50 L505.41,333.22 L505.63,333.96 L505.82,334.72 L506.00,335.50 L506.16,336.28 L506.30,337.05 L506.42,337.82 L506.53,338.60 L506.62,339.38 L506.70,340.19 L506.77,341.03 L506.83,341.91 L506.88,342.84 L506.93,343.83 L506.97,344.88 L507.00,346.00 L507.03,347.22 L507.05,348.56 L507.07,349.98 L507.07,351.47 L507.07,353.00 L507.06,354.57 L507.04,356.14 L507.01,357.70 L506.98,359.23 L506.93,360.70 L506.87,362.10 L506.80,363.40 L506.72,364.63 L506.61,365.81 L506.50,366.95 L506.37,368.05 L506.23,369.12 L506.09,370.16 L505.94,371.18 L505.79,372.17 L505.63,373.15 L505.48,374.11 L505.34,375.06 L505.20,376.00 L505.07,376.92 L504.95,377.81 L504.83,378.66 L504.72,379.49 L504.60,380.30 L504.49,381.10 L504.37,381.89 L504.24,382.69 L504.10,383.49 L503.95,384.31 L503.78,385.14 L503.60,386.00 L503.41,386.88 L503.22,387.78 L503.02,388.69 L502.81,389.60 L502.60,390.53 L502.38,391.46 L502.13,392.39 L501.87,393.32 L501.59,394.25 L501.29,395.17 L500.96,396.09 L500.60,397.00 L500.22,397.91 L499.84,398.82 L499.45,399.74 L499.04,400.65 L498.62,401.57 L498.16,402.48 L497.68,403.38 L497.16,404.27 L496.59,405.15 L495.98,406.02 L495.32,406.87 L494.60,407.70 L493.82,408.51 L492.98,409.32 L492.09,410.10 L491.16,410.88 L490.18,411.65 L489.17,412.40 L488.12,413.14 L487.05,413.87 L485.96,414.60 L484.85,415.31 L483.73,416.01 L482.60,416.70 L481.46,417.38 L480.29,418.05 L479.10,418.71 L477.89,419.36 L476.65,419.99 L475.39,420.62 L474.12,421.24 L472.83,421.84 L471.52,422.44 L470.19,423.04 L468.85,423.62 L467.50,424.20 L466.15,424.77 L464.81,425.34 L463.47,425.91 L462.13,426.46 L460.77,427.01 L459.38,427.55 L457.96,428.08 L456.49,428.59 L454.97,429.09 L453.39,429.58 L451.74,430.05 L450.00,430.50 L448.19,430.94 L446.32,431.37 L444.39,431.79 L442.40,432.20 L440.36,432.60 L438.27,432.98 L436.13,433.34 L433.94,433.69 L431.72,434.00 L429.45,434.30 L427.14,434.56 L424.80,434.80 L422.39,435.01 L419.88,435.21 L417.29,435.39 L414.65,435.55 L411.96,435.69 L409.24,435.80 L406.52,435.88 L403.81,435.94 L401.12,435.96 L398.48,435.94 L395.90,435.89 L393.40,435.80 L390.96,435.65 L388.55,435.43 L386.17,435.16 L383.81,434.84 L381.48,434.50 L379.18,434.12 L376.91,433.74 L374.66,433.37 L372.43,433.00 L370.23,432.66 L368.05,432.36 L365.90,432.10 L363.73,431.87 L361.52,431.66 L359.29,431.45 L357.06,431.25 L354.86,431.06 L352.70,430.89 L350.61,430.74 L348.62,430.61 L346.74,430.49 L344.99,430.40 L343.41,430.34 L342.00,430.30 L340.79,430.28 L339.76,430.29 L338.88,430.31 L338.14,430.36 L337.52,430.42 L336.99,430.51 L336.53,430.61 L336.11,430.74 L335.72,430.90 L335.34,431.07 L334.94,431.27 L334.50,431.50 L334.05,431.75 L333.63,432.01 L333.24,432.29 L332.88,432.59 L332.54,432.91 L332.23,433.26 L331.94,433.64 L331.68,434.04 L331.43,434.48 L331.20,434.95 L330.99,435.46 L330.80,436.00 L330.63,436.56 L330.49,437.14 L330.38,437.72 L330.29,438.33 L330.22,438.98 L330.17,439.66 L330.13,440.38 L330.10,441.17 L330.08,442.01 L330.05,442.93 L330.03,443.92 L330.00,445.00 L329.97,446.24 L329.95,447.69 L329.94,449.29 L329.94,451.00 L329.94,452.77 L329.95,454.56 L329.96,456.32 L329.97,458.00 L329.98,459.55 L329.99,460.94 L330.00,462.10 L330.00,463.00" fill="none" stroke="#000" stroke-width="3.70" stroke-linecap="round" stroke-linejoin="round"/><path d="M436.68,354.30 L437.00,353.80 L437.32,353.27 L437.63,352.71 L437.92,352.11 L438.21,351.50 L438.49,350.87 L438.77,350.22 L439.04,349.56 L439.32,348.90 L439.60,348.24 L439.89,347.58 L440.19,346.93 L440.50,346.30 L440.82,345.67 L441.13,345.05 L441.45,344.42 L441.77,343.79 L442.10,343.16 L442.43,342.53 L442.77,341.90 L443.11,341.28 L443.47,340.65 L443.83,340.03 L444.21,339.41 L444.60,338.80 L445.00,338.19 L445.41,337.57 L445.83,336.95 L446.26,336.33 L446.70,335.71 L447.15,335.10 L447.61,334.49 L448.07,333.89 L448.54,333.30 L449.02,332.72 L449.51,332.15 L450.00,331.60 L450.49,331.06 L450.97,330.53 L451.44,330.02 L451.91,329.51 L452.39,329.02 L452.89,328.53 L453.40,328.05 L453.94,327.57 L454.52,327.10 L455.13,326.63 L455.79,326.17 L456.50,325.70 L457.27,325.22 L458.08,324.73 L458.94,324.23 L459.84,323.72 L460.78,323.22 L461.74,322.73 L462.72,322.26 L463.71,321.81 L464.71,321.39 L465.72,321.02 L466.71,320.68 L467.70,320.40 L468.71,320.16 L469.76,319.95 L470.85,319.77 L471.95,319.61 L473.07,319.49 L474.17,319.41 L475.27,319.35 L476.33,319.33 L477.34,319.34 L478.30,319.39 L479.19,319.48 L480.00,319.60 L480.73,319.77 L481.39,319.99 L481.99,320.25 L482.54,320.56 L483.05,320.89 L483.52,321.26 L483.96,321.66 L484.38,322.07 L484.79,322.49 L485.19,322.93 L485.59,323.36 L486.00,323.80 L486.41,324.24 L486.80,324.71 L487.18,325.19 L487.54,325.69 L487.88,326.20 L488.22,326.72 L488.54,327.26 L488.85,327.80 L489.15,328.35 L489.44,328.90 L489.73,329.45 L490.00,330.00 L490.27,330.55 L490.52,331.11 L490.77,331.67 L491.00,332.24 L491.22,332.81 L491.44,333.39 L491.64,333.97 L491.83,334.56 L492.02,335.16 L492.19,335.77 L492.35,336.38 L492.50,337.00 L492.64,337.63 L492.77,338.25 L492.88,338.88 L492.98,339.52 L493.07,340.16 L493.16,340.81 L493.23,341.47 L493.30,342.15 L493.36,342.84 L493.41,343.54 L493.46,344.26 L493.50,345.00 L493.54,345.75 L493.58,346.49 L493.61,347.24 L493.64,348.00 L493.66,348.77 L493.67,349.56 L493.67,350.38 L493.66,351.22 L493.64,352.10 L493.61,353.02 L493.56,353.99 L493.50,355.00 L493.42,356.08 L493.33,357.22 L493.23,358.42 L493.11,359.67 L492.98,360.95 L492.84,362.25 L492.69,363.57 L492.53,364.89 L492.36,366.20 L492.18,367.50 L491.99,368.77 L491.80,370.00 L491.60,371.20 L491.40,372.40 L491.18,373.59 L490.96,374.78 L490.73,375.95 L490.49,377.12 L490.24,378.29 L489.98,379.44 L489.71,380.59 L489.42,381.74 L489.12,382.87 L488.80,384.00 L488.47,385.13 L488.14,386.25 L487.79,387.38 L487.43,388.50 L487.06,389.62 L486.68,390.72 L486.28,391.82 L485.87,392.90 L485.43,393.96 L484.98,395.00 L484.50,396.01 L484.00,397.00 L483.48,397.97 L482.94,398.93 L482.39,399.88 L481.81,400.81 L481.22,401.73 L480.61,402.62 L479.97,403.49 L479.32,404.33 L478.65,405.15 L477.95,405.93 L477.24,406.69 L476.50,407.40 L475.73,408.07 L474.93,408.70 L474.10,409.29 L473.24,409.84 L472.36,410.37 L471.47,410.88 L470.56,411.36 L469.65,411.83 L468.73,412.30 L467.81,412.76 L466.90,413.23 L466.00,413.70 L465.16,414.18 L464.42,414.65 L463.74,415.13 L463.08,415.59 L462.42,416.05 L461.73,416.50 L460.97,416.94 L460.11,417.36 L459.11,417.77 L457.95,418.17 L456.59,418.54 L455.00,418.90 L453.18,419.24 L451.15,419.56 L448.95,419.87 L446.60,420.16 L444.11,420.44 L441.51,420.70 L438.82,420.95 L436.07,421.19 L433.26,421.41 L430.44,421.62 L427.61,421.81 L424.80,422.00 L421.94,422.17 L418.94,422.34 L415.85,422.49 L412.68,422.63 L409.47,422.76 L406.24,422.87 L403.02,422.97 L399.83,423.05 L396.71,423.11 L393.68,423.16 L390.77,423.19 L388.00,423.20 L385.36,423.19 L382.80,423.16 L380.32,423.12 L377.91,423.06 L375.57,422.98 L373.28,422.89 L371.04,422.78 L368.85,422.65 L366.70,422.51 L364.58,422.36 L362.48,422.18 L360.40,422.00 L358.33,421.78 L356.27,421.52 L354.23,421.22 L352.21,420.90 L350.24,420.56 L348.31,420.21 L346.44,419.87 L344.64,419.55 L342.92,419.25 L341.28,418.98 L339.74,418.76 L338.30,418.60 L336.98,418.48 L335.78,418.38 L334.67,418.31 L333.66,418.27 L332.72,418.25 L331.84,418.26 L331.02,418.29 L330.24,418.34 L329.49,418.42 L328.76,418.52 L328.03,418.65 L327.30,418.80 L326.57,418.97 L325.88,419.17 L325.21,419.39 L324.58,419.63 L323.97,419.90 L323.39,420.19 L322.84,420.51 L322.32,420.86 L321.83,421.23 L321.36,421.62 L320.92,422.05 L320.50,422.50 L320.11,422.97 L319.76,423.44 L319.44,423.93 L319.15,424.44 L318.89,424.98 L318.65,425.54 L318.43,426.15 L318.24,426.80 L318.06,427.51 L317.89,428.27 L317.74,429.10 L317.60,430.00 L317.48,430.98 L317.38,432.03 L317.31,433.15 L317.27,434.33 L317.24,435.57 L317.22,436.84 L317.21,438.16 L317.21,439.50 L317.21,440.86 L317.21,442.24 L317.21,443.62 L317.20,445.00 L317.19,446.45 L317.18,448.03 L317.17,449.71 L317.17,451.44 L317.17,453.20 L317.18,454.94 L317.18,456.62 L317.19,458.22 L317.19,459.70 L317.20,461.01 L317.20,462.12 L317.20,463.00" fill="none" stroke="#000" stroke-width="3.10" stroke-linecap="round" stroke-linejoin="round"/>
<path d="M400.5,370.2 C402.7,369.6 409.7,368.0 413.8,366.6 C417.9,365.2 421.9,363.3 425.0,362.0 C428.1,360.7 430.6,360.0 432.6,358.6 C434.6,357.2 436.3,354.6 437.0,353.8" fill="none" stroke="#000" stroke-width="1.60" stroke-linecap="round" stroke-linejoin="round"/>
<path d="M368,421.5 L389.6,423.8 L389.6,437 L368,434.5 Z" fill="#000"/>
<path d="M372,425.6 L378.5,425.8 L377.5,430 L372.5,430.5 Z" fill="#fff"/>
<path d="M381.5,427.2 L388,427.5 L387.8,432.5 L383,432.8 L384,430 Z" fill="#fff"/>
<path d="M360.5,424.5 L360.5,431.5" fill="none" stroke="#888" stroke-width="0.80" stroke-linecap="round" stroke-linejoin="round"/>
<path d="M325.0,287.0 L402.3,287.0 L402.3,371.0 L322.5,371.0Z" fill="#fff" stroke="none" stroke-width="0.00" stroke-linejoin="round"/>
<path d="M322.3,371.0 L324.8,286.8 L402.3,287.0" fill="none" stroke="#000" stroke-width="1.60" stroke-linecap="round" stroke-linejoin="round"/>
<path d="M403.0,286.5 L403.0,371.5" fill="none" stroke="#000" stroke-width="3.30" stroke-linecap="round" stroke-linejoin="round"/>
<path d="M323.0,370.9 L403.0,372.1" fill="none" stroke="#000" stroke-width="2.60" stroke-linecap="round" stroke-linejoin="round"/>
<ellipse cx="362.4" cy="310" rx="30" ry="20" fill="none" stroke="#000" stroke-width="2.2"/>
<ellipse cx="362.2" cy="310" rx="21.6" ry="14.8" fill="none" stroke="#000" stroke-width="1.6"/>
<path d="M342.0,309.0 C343.0,308.0 345.7,304.5 348.0,303.0 C350.3,301.5 353.5,300.6 356.0,300.0 C358.5,299.4 360.5,299.4 363.0,299.5 C365.5,299.6 368.5,299.8 371.0,300.5 C373.5,301.2 376.0,302.4 378.0,304.0 C380.0,305.6 382.2,309.0 383.0,310.0" fill="none" stroke="#000" stroke-width="1.20" stroke-linecap="round" stroke-linejoin="round"/>
<path d="M342.5,305.0 C343.2,304.2 345.1,301.2 347.0,300.0 C348.9,298.8 352.8,297.9 354.0,297.5" fill="none" stroke="#000" stroke-width="1.00" stroke-linecap="round" stroke-linejoin="round"/>
<path d="M361.5,324.0 L362.8,304.0" fill="none" stroke="#000" stroke-width="1.60" stroke-linecap="round" stroke-linejoin="round"/>
<ellipse cx="345.6" cy="312.3" rx="1.6" ry="2.4" fill="#000"/>
<ellipse cx="378.8" cy="312.6" rx="1.6" ry="2.4" fill="#000"/>
<path d="M350.0,314.5 L351.0,316.0" fill="none" stroke="#000" stroke-width="1.40" stroke-linecap="round" stroke-linejoin="round"/>
<path d="M355.0,313.0 L357.0,316.0" fill="none" stroke="#000" stroke-width="1.40" stroke-linecap="round" stroke-linejoin="round"/>
<path d="M366.0,313.0 L368.0,317.0" fill="none" stroke="#000" stroke-width="1.40" stroke-linecap="round" stroke-linejoin="round"/>
<path d="M371.0,311.0 L372.5,313.0" fill="none" stroke="#000" stroke-width="1.40" stroke-linecap="round" stroke-linejoin="round"/>
<path d="M374.0,306.0 L375.0,309.0" fill="none" stroke="#000" stroke-width="1.40" stroke-linecap="round" stroke-linejoin="round"/>
<path d="M354.5,306.0 L355.5,308.0" fill="none" stroke="#000" stroke-width="1.40" stroke-linecap="round" stroke-linejoin="round"/>
<path d="M369.0,306.0 L370.0,309.0" fill="none" stroke="#000" stroke-width="1.40" stroke-linecap="round" stroke-linejoin="round"/>
<ellipse cx="361.4" cy="355" rx="7.8" ry="5.3" fill="none" stroke="#000" stroke-width="1.6"/>
<path d="M596.30,97.81 L596.25,100.03 L596.19,102.75 L596.13,105.92 L596.05,109.48 L595.97,113.35 L595.88,117.49 L595.79,121.84 L595.69,126.32 L595.59,130.87 L595.49,135.45 L595.39,139.98 L595.29,144.40 L595.18,148.65 L595.09,152.67 L594.99,156.40 L594.90,159.77 L594.79,162.83 L594.68,165.69 L594.57,168.37 L594.46,170.91 L594.36,173.32 L594.25,175.64 L594.14,177.89 L594.03,180.11 L593.92,182.31 L593.81,184.53 L593.70,186.79 L593.58,189.13 L593.47,191.56 L593.35,194.11 L593.23,196.82 L593.11,199.69 L593.02,202.58 L592.93,205.35 L592.85,208.04 L592.76,210.70 L592.67,213.38 L592.57,216.10 L592.48,218.92 L592.38,221.86 L592.28,224.97 L592.18,228.29 L592.08,231.86 L591.98,235.72 L591.87,239.90 L591.77,244.45 L591.66,249.41 L591.55,254.81 L591.46,260.89 L591.37,267.76 L591.28,275.31 L591.18,283.41 L591.07,291.94 L590.97,300.79 L590.86,309.82 L590.76,318.93 L590.65,327.99 L590.55,336.87 L590.45,345.47 L590.35,353.65 L590.25,361.29 L590.16,368.29 L590.08,374.50 L590.00,379.81 L589.88,384.30 L589.76,388.15 L589.66,391.42 L589.56,394.16 L589.47,396.44 L589.39,398.32 L589.30,399.84 L589.22,401.08 L589.14,402.09 L589.05,402.94 L588.96,403.73 L588.86,404.53 L588.74,405.43 L588.61,406.47 L588.46,407.70 L588.29,409.15 L588.12,410.65 L587.95,412.05 L587.78,413.38 L587.61,414.65 L587.43,415.86 L587.24,417.02 L587.05,418.15 L586.84,419.24 L586.63,420.31 L586.41,421.36 L586.18,422.40 L585.94,423.45 L585.68,424.50 L585.40,425.57 L585.11,426.66 L584.79,427.81 L584.45,429.00 L584.11,430.20 L583.77,431.38 L583.43,432.54 L583.08,433.68 L582.73,434.80 L582.37,435.89 L581.99,436.96 L581.61,438.01 L581.22,439.02 L580.80,440.01 L580.38,440.97 L579.94,441.90 L579.48,442.79 L579.00,443.66 L578.49,444.52 L577.95,445.41 L577.37,446.33 L576.76,447.26 L576.11,448.18 L575.44,449.10 L574.74,450.01 L574.01,450.92 L573.27,451.81 L572.49,452.70 L571.70,453.57 L570.89,454.43 L570.06,455.27 L569.22,456.09 L568.36,456.89 L567.49,457.67 L566.62,458.42 L565.74,459.14 L564.83,459.85 L563.90,460.55 L562.95,461.23 L561.97,461.90 L560.97,462.55 L559.95,463.20 L558.90,463.82 L557.84,464.44 L556.75,465.04 L555.64,465.63 L554.51,466.21 L553.37,466.77 L552.20,467.32 L551.02,467.86 L549.83,468.38 L548.64,468.88 L547.45,469.36 L546.25,469.82 L545.04,470.27 L543.81,470.70 L542.56,471.11 L541.29,471.51 L540.00,471.89 L538.69,472.27 L537.34,472.63 L535.96,472.98 L534.55,473.33 L533.10,473.67 L531.61,474.00 L530.09,474.32 L528.52,474.64 L526.92,474.96 L525.31,475.28 L523.68,475.59 L522.02,475.88 L520.35,476.16 L518.64,476.44 L516.91,476.70 L515.14,476.95 L513.35,477.19 L511.51,477.41 L509.64,477.63 L507.72,477.83 L505.76,478.02 L503.76,478.20 L501.71,478.36 L499.61,478.51 L497.46,478.63 L495.23,478.73 L492.93,478.81 L490.56,478.88 L488.14,478.93 L485.68,478.97 L483.17,479.00 L480.63,479.02 L478.07,479.03 L475.49,479.03 L472.90,479.02 L470.31,479.01 L467.73,479.00 L465.16,478.98 L462.61,478.97 L460.10,478.95 L457.61,478.90 L455.10,478.83 L452.57,478.76 L450.02,478.67 L447.46,478.58 L444.89,478.49 L442.32,478.38 L439.76,478.28 L437.21,478.17 L434.68,478.07 L432.17,477.96 L429.69,477.86 L427.25,477.76 L424.85,477.67 L422.49,477.58 L420.19,477.50 L417.97,477.43 L415.84,477.37 L413.78,477.31 L411.78,477.26 L409.84,477.21 L407.93,477.16 L406.05,477.12 L404.18,477.08 L402.31,477.03 L400.43,476.99 L398.52,476.94 L396.58,476.89 L394.59,476.84 L392.54,476.78 L390.41,476.72 L388.19,476.65 L385.81,476.58 L383.24,476.50 L380.50,476.42 L377.64,476.33 L374.70,476.24 L371.71,476.14 L368.71,476.04 L365.74,475.94 L362.82,475.84 L360.01,475.75 L357.33,475.66 L354.82,475.57 L352.52,475.49 L350.46,475.42 L348.69,475.36 L347.23,475.30 L346.77,491.10 L348.22,491.13 L349.99,491.17 L352.04,491.23 L354.34,491.29 L356.85,491.36 L359.53,491.43 L362.35,491.51 L365.26,491.58 L368.24,491.66 L371.25,491.74 L374.25,491.82 L377.20,491.90 L380.07,491.97 L382.81,492.04 L385.41,492.10 L387.81,492.15 L390.06,492.19 L392.21,492.22 L394.29,492.24 L396.31,492.26 L398.27,492.28 L400.19,492.30 L402.08,492.31 L403.95,492.32 L405.81,492.34 L407.69,492.35 L409.58,492.37 L411.51,492.38 L413.49,492.40 L415.52,492.43 L417.62,492.46 L419.81,492.50 L422.07,492.54 L424.39,492.60 L426.76,492.66 L429.18,492.72 L431.65,492.79 L434.15,492.87 L436.68,492.94 L439.24,493.02 L441.82,493.09 L444.41,493.17 L447.01,493.23 L449.61,493.29 L452.20,493.35 L454.79,493.39 L457.36,493.43 L459.90,493.45 L462.43,493.50 L464.98,493.55 L467.56,493.59 L470.16,493.64 L472.77,493.68 L475.39,493.72 L478.01,493.75 L480.62,493.77 L483.21,493.78 L485.79,493.78 L488.33,493.77 L490.84,493.75 L493.31,493.71 L495.73,493.66 L498.09,493.58 L500.39,493.49 L502.62,493.39 L504.79,493.29 L506.92,493.16 L509.01,493.02 L511.06,492.87 L513.07,492.71 L515.04,492.53 L516.98,492.34 L518.89,492.13 L520.76,491.92 L522.61,491.69 L524.43,491.45 L526.23,491.19 L528.00,490.93 L529.75,490.65 L531.48,490.36 L533.19,490.05 L534.86,489.73 L536.50,489.40 L538.12,489.05 L539.72,488.70 L541.29,488.33 L542.84,487.95 L544.37,487.54 L545.89,487.13 L547.39,486.69 L548.88,486.23 L550.35,485.76 L551.82,485.26 L553.28,484.73 L554.73,484.19 L556.17,483.62 L557.59,483.03 L559.00,482.43 L560.39,481.80 L561.78,481.16 L563.16,480.49 L564.53,479.81 L565.88,479.10 L567.22,478.36 L568.55,477.61 L569.86,476.82 L571.16,476.02 L572.44,475.18 L573.70,474.32 L574.95,473.44 L576.18,472.52 L577.38,471.58 L578.56,470.62 L579.71,469.63 L580.85,468.61 L581.97,467.57 L583.07,466.51 L584.15,465.42 L585.20,464.32 L586.23,463.19 L587.24,462.04 L588.22,460.87 L589.18,459.68 L590.11,458.48 L591.00,457.26 L591.87,456.02 L592.70,454.77 L593.51,453.48 L594.27,452.13 L594.99,450.76 L595.65,449.38 L596.27,448.00 L596.84,446.62 L597.37,445.25 L597.86,443.89 L598.32,442.54 L598.75,441.19 L599.15,439.86 L599.53,438.54 L599.89,437.24 L600.24,435.96 L600.57,434.69 L600.89,433.44 L601.21,432.19 L601.53,430.93 L601.84,429.66 L602.13,428.41 L602.40,427.16 L602.66,425.92 L602.90,424.67 L603.13,423.41 L603.34,422.14 L603.55,420.84 L603.74,419.53 L603.92,418.19 L604.09,416.81 L604.25,415.39 L604.41,413.92 L604.56,412.40 L604.71,410.85 L604.84,409.44 L604.95,408.29 L605.05,407.27 L605.14,406.33 L605.22,405.37 L605.30,404.37 L605.38,403.27 L605.44,402.05 L605.50,400.64 L605.56,398.98 L605.62,397.01 L605.68,394.66 L605.75,391.87 L605.82,388.57 L605.90,384.70 L606.00,380.19 L606.16,374.84 L606.32,368.60 L606.50,361.59 L606.67,353.93 L606.85,345.74 L607.03,337.14 L607.22,328.25 L607.41,319.20 L607.59,310.09 L607.78,301.06 L607.96,292.22 L608.15,283.70 L608.33,275.61 L608.51,268.09 L608.68,261.24 L608.85,255.19 L608.99,249.82 L609.13,244.90 L609.26,240.38 L609.40,236.24 L609.53,232.42 L609.66,228.88 L609.79,225.60 L609.92,222.51 L610.05,219.60 L610.17,216.80 L610.30,214.08 L610.42,211.41 L610.54,208.73 L610.66,206.01 L610.78,203.21 L610.89,200.31 L610.97,197.44 L611.04,194.75 L611.11,192.21 L611.17,189.79 L611.24,187.47 L611.30,185.21 L611.36,182.98 L611.42,180.77 L611.48,178.54 L611.54,176.27 L611.60,173.92 L611.65,171.48 L611.71,168.92 L611.77,166.21 L611.83,163.32 L611.90,160.23 L611.99,156.84 L612.08,153.09 L612.18,149.05 L612.28,144.79 L612.38,140.36 L612.48,135.83 L612.59,131.25 L612.69,126.68 L612.78,122.20 L612.88,117.86 L612.96,113.72 L613.05,109.84 L613.12,106.28 L613.19,103.12 L613.25,100.40 L613.30,98.19Z" fill="#fff" stroke="none"/><path d="M596.30,97.81 L596.25,100.03 L596.19,102.75 L596.13,105.92 L596.05,109.48 L595.97,113.35 L595.88,117.49 L595.79,121.84 L595.69,126.32 L595.59,130.87 L595.49,135.45 L595.39,139.98 L595.29,144.40 L595.18,148.65 L595.09,152.67 L594.99,156.40 L594.90,159.77 L594.79,162.83 L594.68,165.69 L594.57,168.37 L594.46,170.91 L594.36,173.32 L594.25,175.64 L594.14,177.89 L594.03,180.11 L593.92,182.31 L593.81,184.53 L593.70,186.79 L593.58,189.13 L593.47,191.56 L593.35,194.11 L593.23,196.82 L593.11,199.69 L593.02,202.58 L592.93,205.35 L592.85,208.04 L592.76,210.70 L592.67,213.38 L592.57,216.10 L592.48,218.92 L592.38,221.86 L592.28,224.97 L592.18,228.29 L592.08,231.86 L591.98,235.72 L591.87,239.90 L591.77,244.45 L591.66,249.41 L591.55,254.81 L591.46,260.89 L591.37,267.76 L591.28,275.31 L591.18,283.41 L591.07,291.94 L590.97,300.79 L590.86,309.82 L590.76,318.93 L590.65,327.99 L590.55,336.87 L590.45,345.47 L590.35,353.65 L590.25,361.29 L590.16,368.29 L590.08,374.50 L590.00,379.81 L589.88,384.30 L589.76,388.15 L589.66,391.42 L589.56,394.16 L589.47,396.44 L589.39,398.32 L589.30,399.84 L589.22,401.08 L589.14,402.09 L589.05,402.94 L588.96,403.73 L588.86,404.53 L588.74,405.43 L588.61,406.47 L588.46,407.70 L588.29,409.15 L588.12,410.65 L587.95,412.05 L587.78,413.38 L587.61,414.65 L587.43,415.86 L587.24,417.02 L587.05,418.15 L586.84,419.24 L586.63,420.31 L586.41,421.36 L586.18,422.40 L585.94,423.45 L585.68,424.50 L585.40,425.57 L585.11,426.66 L584.79,427.81 L584.45,429.00 L584.11,430.20 L583.77,431.38 L583.43,432.54 L583.08,433.68 L582.73,434.80 L582.37,435.89 L581.99,436.96 L581.61,438.01 L581.22,439.02 L580.80,440.01 L580.38,440.97 L579.94,441.90 L579.48,442.79 L579.00,443.66 L578.49,444.52 L577.95,445.41 L577.37,446.33 L576.76,447.26 L576.11,448.18 L575.44,449.10 L574.74,450.01 L574.01,450.92 L573.27,451.81 L572.49,452.70 L571.70,453.57 L570.89,454.43 L570.06,455.27 L569.22,456.09 L568.36,456.89 L567.49,457.67 L566.62,458.42 L565.74,459.14 L564.83,459.85 L563.90,460.55 L562.95,461.23 L561.97,461.90 L560.97,462.55 L559.95,463.20 L558.90,463.82 L557.84,464.44 L556.75,465.04 L555.64,465.63 L554.51,466.21 L553.37,466.77 L552.20,467.32 L551.02,467.86 L549.83,468.38 L548.64,468.88 L547.45,469.36 L546.25,469.82 L545.04,470.27 L543.81,470.70 L542.56,471.11 L541.29,471.51 L540.00,471.89 L538.69,472.27 L537.34,472.63 L535.96,472.98 L534.55,473.33 L533.10,473.67 L531.61,474.00 L530.09,474.32 L528.52,474.64 L526.92,474.96 L525.31,475.28 L523.68,475.59 L522.02,475.88 L520.35,476.16 L518.64,476.44 L516.91,476.70 L515.14,476.95 L513.35,477.19 L511.51,477.41 L509.64,477.63 L507.72,477.83 L505.76,478.02 L503.76,478.20 L501.71,478.36 L499.61,478.51 L497.46,478.63 L495.23,478.73 L492.93,478.81 L490.56,478.88 L488.14,478.93 L485.68,478.97 L483.17,479.00 L480.63,479.02 L478.07,479.03 L475.49,479.03 L472.90,479.02 L470.31,479.01 L467.73,479.00 L465.16,478.98 L462.61,478.97 L460.10,478.95 L457.61,478.90 L455.10,478.83 L452.57,478.76 L450.02,478.67 L447.46,478.58 L444.89,478.49 L442.32,478.38 L439.76,478.28 L437.21,478.17 L434.68,478.07 L432.17,477.96 L429.69,477.86 L427.25,477.76 L424.85,477.67 L422.49,477.58 L420.19,477.50 L417.97,477.43 L415.84,477.37 L413.78,477.31 L411.78,477.26 L409.84,477.21 L407.93,477.16 L406.05,477.12 L404.18,477.08 L402.31,477.03 L400.43,476.99 L398.52,476.94 L396.58,476.89 L394.59,476.84 L392.54,476.78 L390.41,476.72 L388.19,476.65 L385.81,476.58 L383.24,476.50 L380.50,476.42 L377.64,476.33 L374.70,476.24 L371.71,476.14 L368.71,476.04 L365.74,475.94 L362.82,475.84 L360.01,475.75 L357.33,475.66 L354.82,475.57 L352.52,475.49 L350.46,475.42 L348.69,475.36 L347.23,475.30" fill="none" stroke="#000" stroke-width="3.40" stroke-linecap="round" stroke-linejoin="round"/><path d="M613.30,98.19 L613.25,100.40 L613.19,103.12 L613.12,106.28 L613.05,109.84 L612.96,113.72 L612.88,117.86 L612.78,122.20 L612.69,126.68 L612.59,131.25 L612.48,135.83 L612.38,140.36 L612.28,144.79 L612.18,149.05 L612.08,153.09 L611.99,156.84 L611.90,160.23 L611.83,163.32 L611.77,166.21 L611.71,168.92 L611.65,171.48 L611.60,173.92 L611.54,176.27 L611.48,178.54 L611.42,180.77 L611.36,182.98 L611.30,185.21 L611.24,187.47 L611.17,189.79 L611.11,192.21 L611.04,194.75 L610.97,197.44 L610.89,200.31 L610.78,203.21 L610.66,206.01 L610.54,208.73 L610.42,211.41 L610.30,214.08 L610.17,216.80 L610.05,219.60 L609.92,222.51 L609.79,225.60 L609.66,228.88 L609.53,232.42 L609.40,236.24 L609.26,240.38 L609.13,244.90 L608.99,249.82 L608.85,255.19 L608.68,261.24 L608.51,268.09 L608.33,275.61 L608.15,283.70 L607.96,292.22 L607.78,301.06 L607.59,310.09 L607.41,319.20 L607.22,328.25 L607.03,337.14 L606.85,345.74 L606.67,353.93 L606.50,361.59 L606.32,368.60 L606.16,374.84 L606.00,380.19 L605.90,384.70 L605.82,388.57 L605.75,391.87 L605.68,394.66 L605.62,397.01 L605.56,398.98 L605.50,400.64 L605.44,402.05 L605.38,403.27 L605.30,404.37 L605.22,405.37 L605.14,406.33 L605.05,407.27 L604.95,408.29 L604.84,409.44 L604.71,410.85 L604.56,412.40 L604.41,413.92 L604.25,415.39 L604.09,416.81 L603.92,418.19 L603.74,419.53 L603.55,420.84 L603.34,422.14 L603.13,423.41 L602.90,424.67 L602.66,425.92 L602.40,427.16 L602.13,428.41 L601.84,429.66 L601.53,430.93 L601.21,432.19 L600.89,433.44 L600.57,434.69 L600.24,435.96 L599.89,437.24 L599.53,438.54 L599.15,439.86 L598.75,441.19 L598.32,442.54 L597.86,443.89 L597.37,445.25 L596.84,446.62 L596.27,448.00 L595.65,449.38 L594.99,450.76 L594.27,452.13 L593.51,453.48 L592.70,454.77 L591.87,456.02 L591.00,457.26 L590.11,458.48 L589.18,459.68 L588.22,460.87 L587.24,462.04 L586.23,463.19 L585.20,464.32 L584.15,465.42 L583.07,466.51 L581.97,467.57 L580.85,468.61 L579.71,469.63 L578.56,470.62 L577.38,471.58 L576.18,472.52 L574.95,473.44 L573.70,474.32 L572.44,475.18 L571.16,476.02 L569.86,476.82 L568.55,477.61 L567.22,478.36 L565.88,479.10 L564.53,479.81 L563.16,480.49 L561.78,481.16 L560.39,481.80 L559.00,482.43 L557.59,483.03 L556.17,483.62 L554.73,484.19 L553.28,484.73 L551.82,485.26 L550.35,485.76 L548.88,486.23 L547.39,486.69 L545.89,487.13 L544.37,487.54 L542.84,487.95 L541.29,488.33 L539.72,488.70 L538.12,489.05 L536.50,489.40 L534.86,489.73 L533.19,490.05 L531.48,490.36 L529.75,490.65 L528.00,490.93 L526.23,491.19 L524.43,491.45 L522.61,491.69 L520.76,491.92 L518.89,492.13 L516.98,492.34 L515.04,492.53 L513.07,492.71 L511.06,492.87 L509.01,493.02 L506.92,493.16 L504.79,493.29 L502.62,493.39 L500.39,493.49 L498.09,493.58 L495.73,493.66 L493.31,493.71 L490.84,493.75 L488.33,493.77 L485.79,493.78 L483.21,493.78 L480.62,493.77 L478.01,493.75 L475.39,493.72 L472.77,493.68 L470.16,493.64 L467.56,493.59 L464.98,493.55 L462.43,493.50 L459.90,493.45 L457.36,493.43 L454.79,493.39 L452.20,493.35 L449.61,493.29 L447.01,493.23 L444.41,493.17 L441.82,493.09 L439.24,493.02 L436.68,492.94 L434.15,492.87 L431.65,492.79 L429.18,492.72 L426.76,492.66 L424.39,492.60 L422.07,492.54 L419.81,492.50 L417.62,492.46 L415.52,492.43 L413.49,492.40 L411.51,492.38 L409.58,492.37 L407.69,492.35 L405.81,492.34 L403.95,492.32 L402.08,492.31 L400.19,492.30 L398.27,492.28 L396.31,492.26 L394.29,492.24 L392.21,492.22 L390.06,492.19 L387.81,492.15 L385.41,492.10 L382.81,492.04 L380.07,491.97 L377.20,491.90 L374.25,491.82 L371.25,491.74 L368.24,491.66 L365.26,491.58 L362.35,491.51 L359.53,491.43 L356.85,491.36 L354.34,491.29 L352.04,491.23 L349.99,491.17 L348.22,491.13 L346.77,491.10" fill="none" stroke="#000" stroke-width="3.20" stroke-linecap="round" stroke-linejoin="round"/>
<path d="M346.9,474.5 L346.9,492.0" fill="none" stroke="#000" stroke-width="3.60" stroke-linecap="round" stroke-linejoin="round"/>
<path d="M297.7,476.2 L238.5,475.2 A6.6,6.6 0 0 0 238.5,487.8 L297.7,488.2" fill="#fff" stroke="#000" stroke-width="3.0" stroke-linejoin="round"/>
<path d="M297.7,474.6 L297.7,490.0" fill="none" stroke="#000" stroke-width="3.50" stroke-linecap="round" stroke-linejoin="round"/>
<rect x="299.4" y="475" width="11.4" height="15.5" fill="#000"/>
<rect x="303.6" y="479.5" width="6.4" height="6" fill="#fff"/>
<path d="M302.0,478.5 L302.0,486.5" fill="none" stroke="#fff" stroke-width="0.60" stroke-linecap="round" stroke-linejoin="round"/>
<rect x="333.6" y="475.3" width="9.9" height="13.8" fill="#000"/>
<rect x="335.4" y="480" width="5" height="5.5" fill="#fff"/>
<rect x="310.7" y="472" width="22.9" height="21.8" fill="#000"/>
<rect x="315.3" y="476.2" width="13.3" height="11" fill="#fff"/>
<path d="M316.5,477.5 L322.0,485.0 L327.5,477.5" fill="none" stroke="#000" stroke-width="1.00" stroke-linecap="round" stroke-linejoin="round"/>
<rect x="315.7" y="455.5" width="14.7" height="8.5" fill="#000"/>
<ellipse cx="322.6" cy="467.4" rx="11" ry="5.6" fill="#000"/>
<circle cx="322.2" cy="465.8" r="2.8" fill="#fff"/>
<path d="M315.2,468.6 Q322.6,472.6 330.5,468.6" fill="none" stroke="#fff" stroke-width="1.2"/>
<circle cx="208.8" cy="446.5" r="15" fill="#000"/>
<rect x="202.6" y="458" width="9.6" height="17" fill="#000"/>
<rect x="211" y="462" width="3" height="5" fill="#000"/>
<rect x="174.3" y="461.9" width="29" height="4.3" fill="#000"/>
<rect x="174" y="454" width="5.8" height="16" fill="#000"/>
<rect x="199" y="473" width="13.6" height="17.2" rx="2" fill="#000"/>
<rect x="202.6" y="489" width="4.3" height="12.6" fill="#000"/>
<rect x="184" y="478" width="28" height="5.2" fill="#000"/>
<rect x="211" y="479" width="10.8" height="3.4" fill="#000"/>
<path d="M144.6,475.0 L150.0,475.0 L150.0,471.7 L155.0,470.0 L159.2,470.2 L160.0,472.0 L171.7,471.5 L172.9,469.5 L179.2,469.5 L185.0,476.5 L185.0,484.5 L181.7,488.3 L180.0,492.5 L179.7,494.3 L173.2,500.8 L173.7,504.0 L176.0,509.5 L171.0,517.0 L173.4,519.5 L172.8,526.9 L170.5,530.1 L171.8,534.4 L171.2,538.8 L168.5,542.0 L168.3,546.0 L167.0,549.0 L164.5,550.4 L161.3,549.3 L157.2,544.5 L156.4,530.0 L155.8,505.2 L150.0,501.2 L145.0,500.3 L141.7,501.0 L140.0,497.0 L142.0,479.0 L144.6,478.3Z" fill="#000" stroke="none" stroke-width="0.00" stroke-linejoin="round"/>
<path d="M143.3,479.2 L148.8,479.2 L152.5,488.3 L151.7,491.7 L142.3,491.7Z" fill="#fff" stroke="none" stroke-width="0.00" stroke-linejoin="round"/>
<path d="M138.3,471.0 L140.5,469.8 L144.6,470.3 L144.6,478.0 L142.0,492.2 L138.3,523.4 L128.5,547.5 L127.2,547.5 L133.8,501.4Z" fill="#000" stroke="none" stroke-width="0.00" stroke-linejoin="round"/>
<path d="M521.0,127.0 C519.2,127.3 521.0,128.9 519.0,130.0 C517.0,131.1 512.0,131.6 509.0,133.3 C505.9,135.0 503.5,137.5 500.7,140.0 C497.9,142.5 494.5,146.0 492.3,148.3 C490.1,150.6 487.6,152.4 487.3,153.8 C487.0,155.2 489.2,155.4 490.5,157.0 C491.8,158.6 494.0,162.9 494.8,163.3 C495.6,163.7 493.5,160.7 495.2,159.2 C496.9,157.7 501.1,155.6 504.8,154.2 C508.5,152.8 513.1,151.8 517.3,150.8 C521.5,149.8 525.6,149.7 529.8,148.3 C534.0,146.9 540.6,144.7 542.3,142.5 C544.0,140.3 542.0,137.4 540.0,135.0 C538.0,132.6 533.2,129.3 530.0,128.0 C526.8,126.7 522.8,126.7 521.0,127.0Z" fill="#000" stroke="none" stroke-width="0.00" stroke-linejoin="round"/>
<path d="M524.8,127.5 C522.9,128.5 517.2,131.1 513.2,133.6 C509.2,136.1 504.4,139.4 500.7,142.5 C497.0,145.6 492.6,150.4 491.0,152.0" fill="none" stroke="#fff" stroke-width="2.30" stroke-linecap="round" stroke-linejoin="round"/>
<path d="M528.0,134.0 C526.2,134.6 520.9,136.1 517.3,137.8 C513.7,139.5 510.1,142.1 506.5,144.4 C502.9,146.7 497.3,150.3 495.5,151.5" fill="none" stroke="#fff" stroke-width="2.30" stroke-linecap="round" stroke-linejoin="round"/>
<path d="M534.2,135.5 C532.8,136.2 529.2,138.0 525.7,139.8 C522.2,141.6 517.7,143.8 513.2,146.2 C508.7,148.6 500.9,152.9 498.5,154.2" fill="none" stroke="#fff" stroke-width="2.30" stroke-linecap="round" stroke-linejoin="round"/>
<path d="M541.5,141.7 C539.5,142.3 534.5,144.0 529.8,145.4 C525.1,146.8 518.8,148.1 513.2,150.2 C507.6,152.3 498.9,156.5 496.0,157.8" fill="none" stroke="#fff" stroke-width="2.30" stroke-linecap="round" stroke-linejoin="round"/>
<path d="M519.4,112.0 L522.5,107.0 L532.5,98.3 L538.8,96.4 L547.5,93.9 L555.0,88.3 L560.0,85.8 L562.5,82.0 L566.7,77.7 L578.4,67.2 L590.0,57.8 L595.9,52.0 L602.9,50.3 L609.9,53.2 L616.9,56.7 L622.7,59.0 L628.6,65.0 L630.3,75.4 L630.9,81.2 L629.8,84.7 L625.0,88.2 L616.9,91.7 L611.0,94.0 L601.7,99.9 L594.7,104.6 L591.2,108.0 L590.0,113.3 L586.3,118.3 L575.0,125.8 L560.0,133.3 L548.8,139.5 L545.0,139.5 L538.8,134.5 L525.0,124.5 L521.3,122.0 L519.4,113.3Z" fill="#fff" stroke="#000" stroke-width="3.00" stroke-linejoin="round"/>
<path d="M615.3,55.5 L624.0,45.7 L625.3,44.3 L629.3,43.0 L632.7,40.7 L636.0,40.3 L640.0,42.3 L643.0,46.3 L644.0,51.0 L642.7,55.0 L640.0,57.7 L635.3,60.3 L631.3,63.0 L628.7,64.3Z" fill="#fff" stroke="#000" stroke-width="2.60" stroke-linejoin="round"/>
<path d="M630.0,45.0 C630.8,45.5 633.2,46.5 634.7,47.7 C636.2,48.9 637.8,51.2 638.7,52.3 C639.6,53.4 639.8,54.0 640.0,54.3" fill="none" stroke="#000" stroke-width="1.00" stroke-linecap="round" stroke-linejoin="round"/>
<path d="M615.0,55.5 L622.7,59.5 L628.7,64.5" fill="none" stroke="#000" stroke-width="2.60" stroke-linecap="round" stroke-linejoin="round"/>
<path d="M569.0,81.5 C569.6,78.9 574.9,75.1 578.4,71.9 C581.9,68.7 586.3,65.1 590.0,62.5 C593.7,59.9 597.6,57.1 600.5,56.1 C603.4,55.1 605.1,55.6 607.6,56.7 C610.1,57.8 613.6,60.8 615.7,62.5 C617.8,64.2 619.7,65.8 620.4,67.2 C621.1,68.6 621.5,68.7 619.8,70.7 C618.1,72.8 612.6,77.4 610.0,79.5 C607.4,81.6 606.8,81.5 604.0,83.5 C601.2,85.5 596.3,90.0 593.0,91.5 C589.7,93.0 587.0,92.9 584.0,92.2 C581.0,91.5 577.5,89.3 575.0,87.5 C572.5,85.7 568.4,84.1 569.0,81.5Z" fill="none" stroke="#000" stroke-width="2.30" stroke-linejoin="round"/>
<path d="M621.5,72.0 C619.8,73.5 614.6,78.2 611.0,81.0 C607.4,83.8 603.3,86.6 600.0,89.0 C596.7,91.4 592.5,94.4 591.0,95.5" fill="none" stroke="#000" stroke-width="1.00" stroke-linecap="round" stroke-linejoin="round"/>
<path d="M561.5,82.0 L569.0,80.5 L566.5,86.0 L563.0,85.0Z" fill="#000" stroke="none" stroke-width="0.00" stroke-linejoin="round"/>
<path d="M575.5,90.0 C576.6,91.0 580.2,94.2 582.0,96.0 C583.8,97.8 585.2,99.0 586.5,101.0 C587.8,103.0 589.0,106.8 589.5,108.0" fill="none" stroke="#000" stroke-width="2.20" stroke-linecap="round" stroke-linejoin="round"/>
<path d="M578.5,93.0 C579.4,94.0 583.1,98.0 584.0,99.0" fill="none" stroke="#000" stroke-width="0.90" stroke-linecap="round" stroke-linejoin="round"/>
<path d="M611.6,91.1 L627.4,81.2" fill="none" stroke="#000" stroke-width="1.00" stroke-linecap="round" stroke-linejoin="round"/>
<path d="M612.5,94.5 L628.0,84.7" fill="none" stroke="#000" stroke-width="1.00" stroke-linecap="round" stroke-linejoin="round"/>
<path d="M594.0,103.0 L610.0,94.5" fill="none" stroke="#000" stroke-width="1.20" stroke-linecap="round" stroke-linejoin="round"/>
<path d="M594.5,106.5 L610.5,98.0" fill="none" stroke="#000" stroke-width="1.00" stroke-linecap="round" stroke-linejoin="round"/>
<path d="M610.5,92.0 L611.0,99.0" fill="none" stroke="#000" stroke-width="1.60" stroke-linecap="round" stroke-linejoin="round"/>
<path d="M522.5,111.5 L537.5,101.0 L552.0,112.5 L548.5,121.0 L544.5,127.5 L528.5,118.5Z" fill="#fff" stroke="#000" stroke-width="2.00" stroke-linejoin="round"/>
<path d="M526.1,110.8 L540.4,119.0" fill="none" stroke="#000" stroke-width="1.70" stroke-linecap="round" stroke-linejoin="round"/>
<path d="M529.4,108.5 L543.7,116.7" fill="none" stroke="#000" stroke-width="1.70" stroke-linecap="round" stroke-linejoin="round"/>
<path d="M532.7,106.2 L547.0,114.4" fill="none" stroke="#000" stroke-width="1.70" stroke-linecap="round" stroke-linejoin="round"/>
<path d="M536.0,103.9 L550.3,112.1" fill="none" stroke="#000" stroke-width="1.70" stroke-linecap="round" stroke-linejoin="round"/>
<path d="M521.5,114.5 L528.5,118.8 L544.5,128.0 L545.5,139.0 L538.5,134.5 L526.0,125.5 L521.5,122.0Z" fill="#fff" stroke="#000" stroke-width="2.00" stroke-linejoin="round"/>
<path d="M524.0,121.0 L539.0,130.5" fill="none" stroke="#000" stroke-width="1.00" stroke-linecap="round" stroke-linejoin="round"/>
<path d="M544.5,128.0 L556.0,120.5 L561.5,124.5 L560.0,133.3 L550.0,139.5 L545.5,139.0Z" fill="#fff" stroke="#000" stroke-width="2.00" stroke-linejoin="round"/>
<path d="M548.0,121.0 L556.0,120.5" fill="none" stroke="#000" stroke-width="1.40" stroke-linecap="round" stroke-linejoin="round"/>
<path d="M547.5,102.5 L561.5,89.5 L571.0,95.0 L557.0,108.0Z" fill="#fff" stroke="#000" stroke-width="1.80" stroke-linejoin="round"/>
<path d="M550.0,103.5 L562.0,92.5" fill="none" stroke="#000" stroke-width="0.80" stroke-linecap="round" stroke-linejoin="round"/>
<ellipse cx="559.5" cy="98.5" rx="2.5" ry="1.9" fill="none" stroke="#000" stroke-width="1.4"/>
<path d="M552.0,112.5 L563.0,107.0 L580.0,98.0 L586.5,101.0" fill="none" stroke="#000" stroke-width="1.80" stroke-linecap="round" stroke-linejoin="round"/>
<path d="M556.0,120.5 L570.0,113.0 L586.0,105.0" fill="none" stroke="#000" stroke-width="1.30" stroke-linecap="round" stroke-linejoin="round"/>
<path d="M561.5,124.5 L575.0,118.0 L588.5,110.0" fill="none" stroke="#000" stroke-width="1.30" stroke-linecap="round" stroke-linejoin="round"/>
<path d="M561.0,129.0 L575.0,122.0 L588.0,115.0" fill="none" stroke="#000" stroke-width="0.90" stroke-linecap="round" stroke-linejoin="round"/>
</svg>
</body></html>
